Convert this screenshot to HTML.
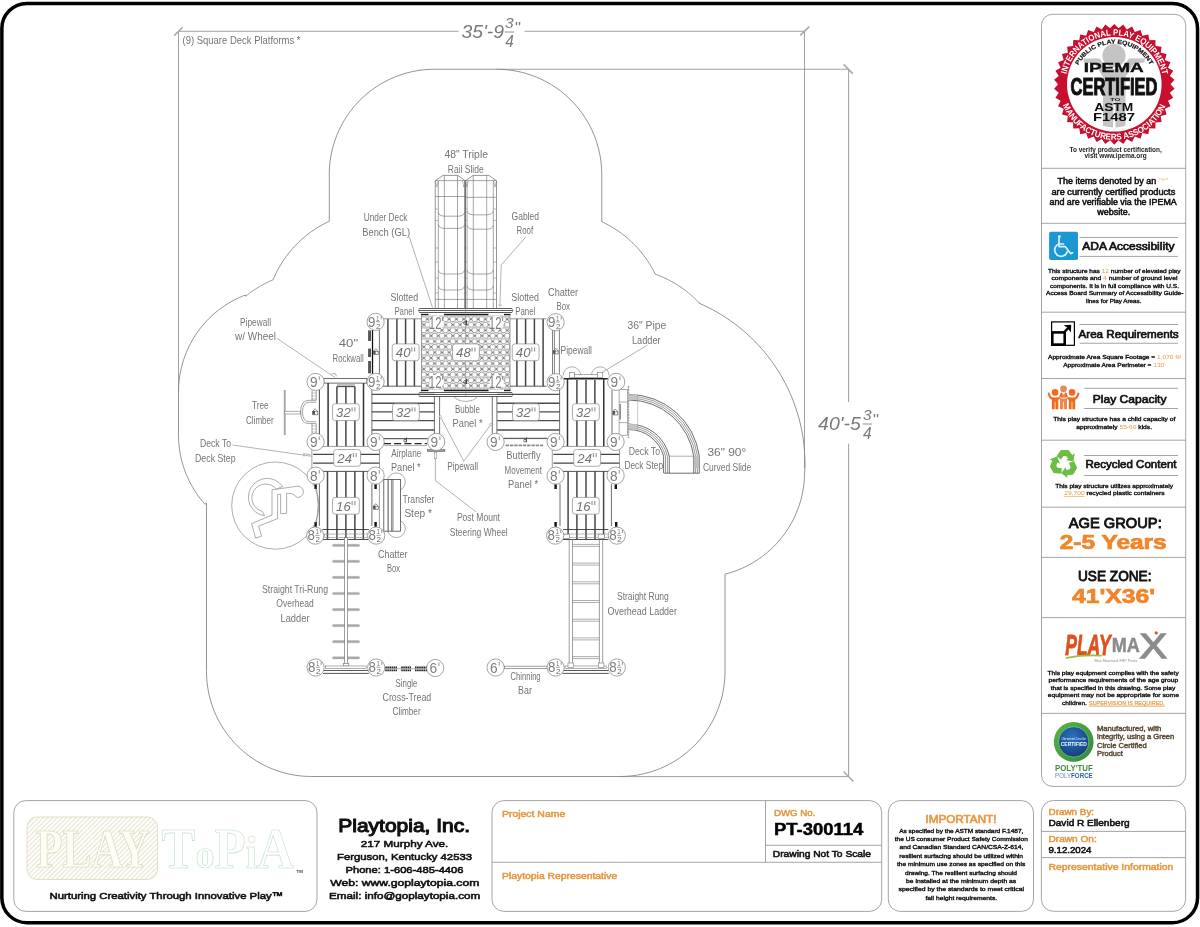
<!DOCTYPE html>
<html lang="en"><head><meta charset="utf-8"><title>Playtopia PT-300114</title>
<style>
html,body{margin:0;padding:0;background:#fff;}
body{width:1200px;height:927px;overflow:hidden;}
svg{display:block;will-change:transform;font-family:"Liberation Sans",sans-serif;}
</style></head><body>
<svg width="1200" height="927" viewBox="0 0 1200 927">
<!-- part_panels -->
<rect x="1.85" y="3.5" width="1195.7" height="919.2" rx="25" ry="25" fill="#fff" stroke="#000" stroke-width="3.5"/>
<rect x="1041.5" y="14.3" width="144.2" height="772.1" rx="11" ry="11" fill="none" stroke="#9a9a9a" stroke-width="0.9"/>
<line x1="1041.5" y1="168.3" x2="1185.7" y2="168.3" stroke="#9a9a9a" stroke-width="0.9"/>
<line x1="1041.5" y1="223.3" x2="1185.7" y2="223.3" stroke="#9a9a9a" stroke-width="0.9"/>
<line x1="1041.5" y1="312.2" x2="1185.7" y2="312.2" stroke="#9a9a9a" stroke-width="0.9"/>
<line x1="1041.5" y1="378.5" x2="1185.7" y2="378.5" stroke="#9a9a9a" stroke-width="0.9"/>
<line x1="1041.5" y1="440.2" x2="1185.7" y2="440.2" stroke="#9a9a9a" stroke-width="0.9"/>
<line x1="1041.5" y1="507.2" x2="1185.7" y2="507.2" stroke="#9a9a9a" stroke-width="0.9"/>
<line x1="1041.5" y1="557.4" x2="1185.7" y2="557.4" stroke="#9a9a9a" stroke-width="0.9"/>
<line x1="1041.5" y1="617.6" x2="1185.7" y2="617.6" stroke="#9a9a9a" stroke-width="0.9"/>
<line x1="1041.5" y1="713.4" x2="1185.7" y2="713.4" stroke="#9a9a9a" stroke-width="0.9"/>
<rect x="13.8" y="800.6" width="303.2" height="110.8" rx="12" ry="12" fill="none" stroke="#9a9a9a" stroke-width="0.9"/>
<rect x="492" y="800.6" width="389.7" height="110.8" rx="12" ry="12" fill="none" stroke="#9a9a9a" stroke-width="0.9"/>
<line x1="492" y1="862.25" x2="881.7" y2="862.25" stroke="#9a9a9a" stroke-width="0.9"/>
<line x1="765.5" y1="800.6" x2="765.5" y2="862.25" stroke="#9a9a9a" stroke-width="0.9"/>
<line x1="765.5" y1="845.3" x2="881.7" y2="845.3" stroke="#9a9a9a" stroke-width="0.9"/>
<rect x="888.3" y="800.6" width="145.2" height="110.8" rx="12" ry="12" fill="none" stroke="#9a9a9a" stroke-width="0.9"/>
<rect x="1041.4" y="800.5" width="144.2" height="110.8" rx="12" ry="12" fill="none" stroke="#9a9a9a" stroke-width="0.9"/>
<line x1="1041.4" y1="831.4" x2="1185.6" y2="831.4" stroke="#9a9a9a" stroke-width="0.9"/>
<line x1="1041.4" y1="857.6" x2="1185.6" y2="857.6" stroke="#9a9a9a" stroke-width="0.9"/>
<text x="338.3" y="832.25" font-size="18.5" textLength="131.7" lengthAdjust="spacingAndGlyphs" stroke="#111" stroke-width="1.11" fill="#111">Playtopia, Inc.</text>
<text x="360.8" y="846.8" font-size="9.71" textLength="87.45" lengthAdjust="spacingAndGlyphs" stroke="#111" stroke-width="0.58" fill="#111">217 Murphy Ave.</text>
<text x="337" y="859.7" font-size="9.71" textLength="135" lengthAdjust="spacingAndGlyphs" stroke="#111" stroke-width="0.58" fill="#111">Ferguson, Kentucky 42533</text>
<text x="345.5" y="872.75" font-size="9.71" textLength="118" lengthAdjust="spacingAndGlyphs" stroke="#111" stroke-width="0.58" fill="#111">Phone: 1-606-485-4406</text>
<text x="330.2" y="885.8" font-size="9.71" textLength="149.1" lengthAdjust="spacingAndGlyphs" stroke="#111" stroke-width="0.58" fill="#111">Web: www.goplaytopia.com</text>
<text x="329" y="899.3" font-size="9.71" textLength="151.2" lengthAdjust="spacingAndGlyphs" stroke="#111" stroke-width="0.58" fill="#111">Email: info@goplaytopia.com</text>
<text x="49.5" y="898.7" font-size="9.71" textLength="233.5" lengthAdjust="spacingAndGlyphs" stroke="#111" stroke-width="0.58" fill="#111">Nurturing Creativity Through Innovative Play™</text>
<text x="502" y="816.8" font-size="8.6" textLength="63.2" lengthAdjust="spacingAndGlyphs" stroke="#e39a45" stroke-width="0.52" fill="#e39a45">Project Name</text>
<text x="502" y="879.2" font-size="8.6" textLength="115.25" lengthAdjust="spacingAndGlyphs" stroke="#e39a45" stroke-width="0.52" fill="#e39a45">Playtopia Representative</text>
<text x="774" y="815.75" font-size="8.79" textLength="41.25" lengthAdjust="spacingAndGlyphs" stroke="#e39a45" stroke-width="0.53" fill="#e39a45">DWG No.</text>
<text x="774" y="835.25" font-size="15.6" textLength="89.25" lengthAdjust="spacingAndGlyphs" font-weight="bold" fill="#000" stroke="#000" stroke-width="0.45">PT-300114</text>
<text x="772.8" y="856.7" font-size="9.25" textLength="98.2" lengthAdjust="spacingAndGlyphs" stroke="#111" stroke-width="0.55" fill="#111">Drawing Not To Scale</text>
<text x="925.5" y="822.8" font-size="11.1" textLength="71" lengthAdjust="spacingAndGlyphs" stroke="#e39a45" stroke-width="0.67" fill="#e39a45">IMPORTANT!</text>
<text x="899.25" y="832.7" font-size="5.92" textLength="124.05" lengthAdjust="spacingAndGlyphs" stroke="#111" stroke-width="0.36" fill="#111">As specified by the ASTM standard F.1487,</text>
<text x="894.75" y="840.8" font-size="5.92" textLength="133.05" lengthAdjust="spacingAndGlyphs" stroke="#111" stroke-width="0.36" fill="#111">the US consumer Product Safety Commission</text>
<text x="899.5" y="849.2" font-size="5.92" textLength="123.8" lengthAdjust="spacingAndGlyphs" stroke="#111" stroke-width="0.36" fill="#111">and Canadian Standard CAN/CSA-Z-614,</text>
<text x="899.25" y="857.75" font-size="5.92" textLength="123.75" lengthAdjust="spacingAndGlyphs" stroke="#111" stroke-width="0.36" fill="#111">resilient surfacing should be utilized within</text>
<text x="897" y="866" font-size="5.92" textLength="128.25" lengthAdjust="spacingAndGlyphs" stroke="#111" stroke-width="0.36" fill="#111">the minimum use zones as specified on this</text>
<text x="905" y="874.7" font-size="5.92" textLength="112" lengthAdjust="spacingAndGlyphs" stroke="#111" stroke-width="0.36" fill="#111">drawing. The resilient surfacing should</text>
<text x="906" y="882.8" font-size="5.92" textLength="110.25" lengthAdjust="spacingAndGlyphs" stroke="#111" stroke-width="0.36" fill="#111">be installed at the minimum depth as</text>
<text x="898.5" y="891.2" font-size="5.92" textLength="125.5" lengthAdjust="spacingAndGlyphs" stroke="#111" stroke-width="0.36" fill="#111">specified by the standards to meet critical</text>
<text x="925.5" y="899.75" font-size="5.92" textLength="71.7" lengthAdjust="spacingAndGlyphs" stroke="#111" stroke-width="0.36" fill="#111">fall height requirements.</text>
<text x="1048.5" y="815.1" font-size="9.07" textLength="45.6" lengthAdjust="spacingAndGlyphs" stroke="#e39a45" stroke-width="0.54" fill="#e39a45">Drawn By:</text>
<text x="1048.5" y="826" font-size="9.25" textLength="81.1" lengthAdjust="spacingAndGlyphs" stroke="#111" stroke-width="0.55" fill="#111">David R Ellenberg</text>
<text x="1048.5" y="841.9" font-size="9.07" textLength="48.2" lengthAdjust="spacingAndGlyphs" stroke="#e39a45" stroke-width="0.54" fill="#e39a45">Drawn On:</text>
<text x="1048.5" y="852.8" font-size="9.25" textLength="43" lengthAdjust="spacingAndGlyphs" stroke="#111" stroke-width="0.55" fill="#111">9.12.2024</text>
<text x="1048.5" y="870.2" font-size="9.07" textLength="124.9" lengthAdjust="spacingAndGlyphs" stroke="#e39a45" stroke-width="0.54" fill="#e39a45">Representative Information</text>
<!-- part_right -->
<polygon points="1114.3,23.9 1118.5,28.26 1123.3,24.57 1126.81,29.51 1132.1,26.58 1134.83,31.98 1140.51,29.88 1142.4,35.63 1148.32,34.4 1149.34,40.36 1155.38,40.02 1155.5,46.07 1161.52,46.64 1160.73,52.64 1166.61,54.1 1164.93,59.92 1170.52,62.23 1168,67.73 1173.19,70.86 1169.87,75.92 1174.53,79.79 1170.5,84.3 1174.53,88.81 1169.87,92.68 1173.19,97.74 1168,100.87 1170.52,106.37 1164.93,108.68 1166.61,114.5 1160.73,115.96 1161.52,121.96 1155.5,122.53 1155.38,128.58 1149.34,128.24 1148.32,134.2 1142.4,132.97 1140.51,138.72 1134.83,136.62 1132.1,142.02 1126.81,139.09 1123.3,144.03 1118.5,140.34 1114.3,144.7 1110.1,140.34 1105.3,144.03 1101.79,139.09 1096.5,142.02 1093.77,136.62 1088.09,138.72 1086.2,132.97 1080.28,134.2 1079.26,128.24 1073.22,128.58 1073.1,122.53 1067.08,121.96 1067.87,115.96 1061.99,114.5 1063.67,108.68 1058.08,106.37 1060.6,100.87 1055.41,97.74 1058.73,92.68 1054.07,88.81 1058.1,84.3 1054.07,79.79 1058.73,75.92 1055.41,70.86 1060.6,67.73 1058.08,62.23 1063.67,59.92 1061.99,54.1 1067.87,52.64 1067.08,46.64 1073.1,46.07 1073.22,40.02 1079.26,40.36 1080.28,34.4 1086.2,35.63 1088.09,29.88 1093.77,31.98 1096.5,26.58 1101.79,29.51 1105.3,24.57 1110.1,28.26" fill="#c8102e"/>
<circle cx="1114.3" cy="84.3" r="47.3" fill="#fff"/>
<g><circle cx="1114" cy="55.6" r="11.6" fill="#c4c4c4"/>
<path d="M1083.5 58.5 L1099.5 58.5 L1107 69 L1121.6 69 L1129 58.5 L1145 58.5 L1144.5 62.5 L1134 63.5 L1125.5 77 L1125.5 126 L1115.6 127.6 L1114.8 101 L1113.8 101 L1113 127.6 L1103 126 L1103 77 L1094.5 63.5 L1084 62.5 Z" fill="#c4c4c4"/></g>
<defs><path id="sa1" d="M1066.47 74.13 A48.9 48.9 0 0 1 1162.13 74.13" fill="none"/><path id="sa2" d="M1062.84 105.09 A55.5 55.5 0 0 0 1165.76 105.09" fill="none"/><path id="sa3" d="M1078.45 65.24 A40.6 40.6 0 0 1 1150.15 65.24" fill="none"/></defs>
<text font-size="8.7" font-weight="bold" fill="#fff" textLength="133.73" lengthAdjust="spacingAndGlyphs"><textPath href="#sa1" textLength="133.73" lengthAdjust="spacingAndGlyphs">INTERNATIONAL PLAY EQUIPMENT</textPath></text>
<text font-size="8.7" font-weight="bold" fill="#fff" textLength="130.53" lengthAdjust="spacingAndGlyphs"><textPath href="#sa2" textLength="130.53" lengthAdjust="spacingAndGlyphs">MANUFACTURERS ASSOCIATION</textPath></text>
<text font-size="6" font-weight="bold" fill="#111" stroke="#111" stroke-width="0.2" textLength="87.37" lengthAdjust="spacingAndGlyphs"><textPath href="#sa3" textLength="87.37" lengthAdjust="spacingAndGlyphs">PUBLIC PLAY EQUIPMENT</textPath></text>
<text x="1083.7" y="71.75" font-size="13.1" textLength="60.05" lengthAdjust="spacingAndGlyphs" font-weight="bold" fill="#111" stroke="#111" stroke-width="0.4">IPEMA</text>
<text x="1070.6" y="94.5" font-size="23.6" textLength="86.8" lengthAdjust="spacingAndGlyphs" font-weight="bold" fill="#111" stroke="#111" stroke-width="1.1">CERTIFIED</text>
<text x="1110" y="100.9" font-size="4" textLength="10.4" lengthAdjust="spacingAndGlyphs" font-weight="bold" fill="#222">TO</text>
<text x="1094.2" y="110.8" font-size="10.6" textLength="39.05" lengthAdjust="spacingAndGlyphs" font-weight="bold" fill="#111">ASTM</text>
<text x="1093" y="121.2" font-size="10.2" textLength="42" lengthAdjust="spacingAndGlyphs" font-weight="bold" fill="#111">F1487</text>
<text x="1069.5" y="151.75" font-size="6.6" textLength="92.25" lengthAdjust="spacingAndGlyphs" font-weight="bold" fill="#222">To verify product certification,</text>
<text x="1084.5" y="157.75" font-size="6.6" textLength="62.25" lengthAdjust="spacingAndGlyphs" font-weight="bold" fill="#222">visit www.ipema.org</text>
<text x="1057.5" y="184.3" font-size="8.33" textLength="111" lengthAdjust="spacingAndGlyphs" stroke="#111" stroke-width="0.5" fill="#111">The items denoted by an <tspan fill="#e8c9a0" stroke="none">"*"</tspan></text>
<text x="1051.5" y="194.8" font-size="8.33" textLength="123.75" lengthAdjust="spacingAndGlyphs" stroke="#111" stroke-width="0.5" fill="#111">are currently certified products</text>
<text x="1049.5" y="205" font-size="8.33" textLength="127.25" lengthAdjust="spacingAndGlyphs" stroke="#111" stroke-width="0.5" fill="#111">and are verifiable via the IPEMA</text>
<text x="1097.25" y="215" font-size="8.33" textLength="33" lengthAdjust="spacingAndGlyphs" stroke="#111" stroke-width="0.5" fill="#111">website.</text>
<rect x="1049.1" y="231.8" width="28.9" height="28.3" rx="1.8" ry="1.8" fill="#1d97d4"/>
<rect x="1058" y="235.2" width="2.8" height="2.6" rx="0.8" ry="0.8" fill="#d8f4ff"/>
<path d="M1059 238 L1059 246.6 L1065.2 246.6 L1070.6 253.6 L1072.6 252.7" fill="none" stroke="#d8f4ff" stroke-width="1.7" stroke-linecap="round" stroke-linejoin="round"/>
<path d="M1059 244 L1063.6 244" fill="none" stroke="#d8f4ff" stroke-width="1.7" stroke-linecap="round" stroke-linejoin="round"/>
<path d="M1057.6 244.6 A6.4 6.4 0 1 0 1067.2 251.8" fill="none" stroke="#d8f4ff" stroke-width="1.7" stroke-linecap="round" stroke-linejoin="round"/>
<line x1="1079.5" y1="237.5" x2="1178" y2="237.5" stroke="#9a9a9a" stroke-width="0.9"/>
<line x1="1079.5" y1="256.4" x2="1178" y2="256.4" stroke="#9a9a9a" stroke-width="0.9"/>
<text x="1082.25" y="250.4" font-size="11.29" textLength="92.25" lengthAdjust="spacingAndGlyphs" stroke="#111" stroke-width="0.68" fill="#111">ADA Accessibility</text>
<text x="1048" y="272.75" font-size="5.64" textLength="132.5" lengthAdjust="spacingAndGlyphs" stroke="#111" stroke-width="0.34" fill="#111">This structure has <tspan fill="#e39a45" stroke="none">12</tspan> number of elevated play</text>
<text x="1051.5" y="280.25" font-size="5.64" textLength="126" lengthAdjust="spacingAndGlyphs" stroke="#111" stroke-width="0.34" fill="#111">components and <tspan fill="#e39a45" stroke="none">4</tspan> number of ground level</text>
<text x="1050" y="287.75" font-size="5.64" textLength="129" lengthAdjust="spacingAndGlyphs" stroke="#111" stroke-width="0.34" fill="#111">components. It is in full compliance with U.S.</text>
<text x="1046" y="295" font-size="5.64" textLength="137.5" lengthAdjust="spacingAndGlyphs" stroke="#111" stroke-width="0.34" fill="#111">Access Board Summary of Accessibility Guide-</text>
<text x="1086" y="302.5" font-size="5.64" textLength="55.5" lengthAdjust="spacingAndGlyphs" stroke="#111" stroke-width="0.34" fill="#111">lines for Play Areas.</text>
<rect x="1051.6" y="321.9" width="22.8" height="23.4" fill="#fff" stroke="#000" stroke-width="1.2"/>
<rect x="1052.3" y="332.4" width="12.4" height="12.2" fill="#fff" stroke="#000" stroke-width="2.6"/>
<path d="M1064.2 332.2 L1069.4 326.8" fill="none" stroke="#000" stroke-width="2.4"/>
<path d="M1063.6 325.2 L1071.2 324.8 L1070.9 332.6 L1069 330 L1068.4 328.2 L1066.4 327 Z" fill="#000"/>
<line x1="1079.5" y1="324.5" x2="1178" y2="324.5" stroke="#9a9a9a" stroke-width="0.9"/>
<line x1="1079.5" y1="343.25" x2="1178" y2="343.25" stroke="#9a9a9a" stroke-width="0.9"/>
<text x="1078.5" y="337.7" font-size="11.29" textLength="100.2" lengthAdjust="spacingAndGlyphs" stroke="#111" stroke-width="0.68" fill="#111">Area Requirements</text>
<text x="1048" y="359" font-size="5.64" textLength="133.2" lengthAdjust="spacingAndGlyphs" stroke="#111" stroke-width="0.34" fill="#111">Approximate Area Square Footage = <tspan fill="#e39a45" stroke="none">1,070 ft²</tspan></text>
<text x="1063.2" y="366.5" font-size="5.64" textLength="102.3" lengthAdjust="spacingAndGlyphs" stroke="#111" stroke-width="0.34" fill="#111">Approximate Area Perimeter = <tspan fill="#e39a45" stroke="none">130'</tspan></text>
<circle cx="1063.5" cy="388.9" r="3.3" fill="#ea8a52"/><path d="M1060 394.3 h7 v14.9 h-3.15 v-7.5 h-0.7 v7.5 h-3.15 Z" fill="#ea8a52"/>
<circle cx="1055.1" cy="392.4" r="3.3" fill="#f26a1b"/><path d="M1051.9 397.5 h6.4 v11.7 h-2.85 v-7.5 h-0.7 v7.5 h-2.85 Z" fill="#f26a1b"/>
<path d="M1048.7 393.6 Q1050.6 399.5 1053.1 398.6" fill="none" stroke="#f26a1b" stroke-width="2.1" stroke-linecap="round"/>
<path d="M1061.5 393.6 Q1059.6 399.5 1057.1 398.6" fill="none" stroke="#f26a1b" stroke-width="2.1" stroke-linecap="round"/>
<circle cx="1072" cy="392.4" r="3.3" fill="#f26a1b"/><path d="M1068.8 397.5 h6.4 v11.7 h-2.85 v-7.5 h-0.7 v7.5 h-2.85 Z" fill="#f26a1b"/>
<path d="M1065.6 393.6 Q1067.5 399.5 1070 398.6" fill="none" stroke="#f26a1b" stroke-width="2.1" stroke-linecap="round"/>
<path d="M1078.4 393.6 Q1076.5 399.5 1074 398.6" fill="none" stroke="#f26a1b" stroke-width="2.1" stroke-linecap="round"/>
<path d="M1058.6 396.8 Q1063.5 400 1068.4 396.8" fill="none" stroke="#fff" stroke-width="0.7"/>
<line x1="1084" y1="388.3" x2="1178" y2="388.3" stroke="#9a9a9a" stroke-width="0.9"/>
<line x1="1084" y1="408.5" x2="1178" y2="408.5" stroke="#9a9a9a" stroke-width="0.9"/>
<text x="1092.75" y="402.7" font-size="11.29" textLength="73.75" lengthAdjust="spacingAndGlyphs" stroke="#111" stroke-width="0.68" fill="#111">Play Capacity</text>
<text x="1053.3" y="421" font-size="5.64" textLength="121.95" lengthAdjust="spacingAndGlyphs" stroke="#111" stroke-width="0.34" fill="#111">This play structure has a child capacity of</text>
<text x="1076.25" y="428.5" font-size="5.64" textLength="75.75" lengthAdjust="spacingAndGlyphs" stroke="#111" stroke-width="0.34" fill="#111">approximately <tspan fill="#e39a45" stroke="none">55-60</tspan> kids.</text>
<g><path d="M-7.4 -7.4 L-3 -13.6 L4.6 -13.6 L8.4 -8.6 L10.8 -10.2 L9.6 -2.4 L2 -3.4 L4.4 -5.2 L2 -7.6 L-0.4 -7.6 L-3 -4 Z" transform="translate(1063.9 463.6) rotate(0)" fill="#6cbd45"/>
<path d="M-7.4 -7.4 L-3 -13.6 L4.6 -13.6 L8.4 -8.6 L10.8 -10.2 L9.6 -2.4 L2 -3.4 L4.4 -5.2 L2 -7.6 L-0.4 -7.6 L-3 -4 Z" transform="translate(1063.9 463.6) rotate(120)" fill="#6cbd45"/>
<path d="M-7.4 -7.4 L-3 -13.6 L4.6 -13.6 L8.4 -8.6 L10.8 -10.2 L9.6 -2.4 L2 -3.4 L4.4 -5.2 L2 -7.6 L-0.4 -7.6 L-3 -4 Z" transform="translate(1063.9 463.6) rotate(240)" fill="#6cbd45"/></g>
<line x1="1084" y1="455.5" x2="1178" y2="455.5" stroke="#9a9a9a" stroke-width="0.9"/>
<line x1="1084" y1="475.5" x2="1178" y2="475.5" stroke="#9a9a9a" stroke-width="0.9"/>
<text x="1085.5" y="468.25" font-size="11.29" textLength="91" lengthAdjust="spacingAndGlyphs" stroke="#111" stroke-width="0.68" fill="#111">Recycled Content</text>
<text x="1055.25" y="487.75" font-size="5.64" textLength="117.75" lengthAdjust="spacingAndGlyphs" stroke="#111" stroke-width="0.34" fill="#111">This play structure utilizes approximately</text>
<text x="1064.25" y="495.25" font-size="5.64" textLength="100.25" lengthAdjust="spacingAndGlyphs" stroke="#111" stroke-width="0.34" fill="#111"><tspan fill="#e39a45" stroke="none" text-decoration="underline">29,700</tspan> recycled plastic containers</text>
<text x="1068.75" y="527.75" font-size="14.43" textLength="93" lengthAdjust="spacingAndGlyphs" stroke="#111" stroke-width="0.87" fill="#111">AGE GROUP:</text>
<text x="1059.75" y="549.2" font-size="20.5" textLength="106.95" lengthAdjust="spacingAndGlyphs" font-weight="bold" fill="#f0852a" stroke="#f0852a" stroke-width="0.7">2-5 Years</text>
<text x="1078" y="581" font-size="14.43" textLength="73.5" lengthAdjust="spacingAndGlyphs" stroke="#111" stroke-width="0.87" fill="#111">USE ZONE:</text>
<text x="1072" y="602.75" font-size="20" textLength="83" lengthAdjust="spacingAndGlyphs" font-weight="bold" fill="#f0852a" stroke="#f0852a" stroke-width="0.7">41&#x27;X36&#x27;</text>
<text x="1065.2" y="654.8" font-size="30" textLength="45.5" lengthAdjust="spacingAndGlyphs" font-weight="bold" fill="#e0501c" font-style="italic" stroke="#e0501c" stroke-width="0.9" stroke-linejoin="round">PLAY</text>
<text x="1111.8" y="652.2" font-size="20" textLength="28" lengthAdjust="spacingAndGlyphs" font-weight="bold" fill="#8c8c8c" stroke="#8c8c8c" stroke-width="0.5">MA</text>
<text x="1139.5" y="658" font-size="35" textLength="27.5" lengthAdjust="spacingAndGlyphs" fill="#8c8c8c" stroke="#8c8c8c" stroke-width="1.3">X</text>
<path d="M1066.5 657.8 Q1083 654.6 1101 655.6" fill="none" stroke="#8fc63f" stroke-width="1.7" stroke-linecap="round"/>
<circle cx="1156.2" cy="632.9" r="1.6" fill="#e0501c"/>
<text x="1094.5" y="662.2" font-size="3.6" textLength="42.5" lengthAdjust="spacingAndGlyphs" fill="#888">Max Structural FRP Posts</text>
<text x="1089" y="704.8" font-size="6.1" textLength="75.75" lengthAdjust="spacingAndGlyphs" fill="#e39a45" text-decoration="underline" stroke="#e39a45" stroke-width="0.2">SUPERVISION IS REQUIRED.</text>
<text x="1047.5" y="674.8" font-size="5.64" textLength="131.2" lengthAdjust="spacingAndGlyphs" stroke="#111" stroke-width="0.34" fill="#111">This play equipment complies with the safety</text>
<text x="1048.5" y="682.3" font-size="5.64" textLength="129.75" lengthAdjust="spacingAndGlyphs" stroke="#111" stroke-width="0.34" fill="#111">performance requirements of the age group</text>
<text x="1050.75" y="689.8" font-size="5.64" textLength="124.5" lengthAdjust="spacingAndGlyphs" stroke="#111" stroke-width="0.34" fill="#111">that is specified in this drawing. Some play</text>
<text x="1047.75" y="697" font-size="5.64" textLength="131.25" lengthAdjust="spacingAndGlyphs" stroke="#111" stroke-width="0.34" fill="#111">equipment may not be appropriate for some</text>
<text x="1062" y="704.8" font-size="5.64" textLength="24.9" lengthAdjust="spacingAndGlyphs" stroke="#111" stroke-width="0.34" fill="#111">children.</text>
<defs><radialGradient id="gcb" cx="0.45" cy="0.35" r="0.7"><stop offset="0" stop-color="#2a73c0"/><stop offset="1" stop-color="#143a78"/></radialGradient><linearGradient id="gcg" x1="0" y1="0" x2="1" y2="1"><stop offset="0" stop-color="#5cb447"/><stop offset="1" stop-color="#2d8a3a"/></linearGradient></defs>
<circle cx="1073.7" cy="741.9" r="19.9" fill="url(#gcg)"/>
<circle cx="1073.7" cy="741.9" r="15.2" fill="url(#gcb)" stroke="#8fe08a" stroke-width="0.6"/>
<text x="1061.6" y="740.2" font-size="4.4" textLength="24.4" lengthAdjust="spacingAndGlyphs" fill="#dfeeff">GreenCircle</text>
<text x="1060.8" y="745.6" font-size="5.2" textLength="26" lengthAdjust="spacingAndGlyphs" font-weight="bold" fill="#eef6ff">CERTIFIED</text>
<text x="1097" y="730.8" font-size="6.75" textLength="64.3" lengthAdjust="spacingAndGlyphs" stroke="#5a4a36" stroke-width="0.41" fill="#5a4a36">Manufactured, with</text>
<text x="1097" y="739.2" font-size="6.75" textLength="77.2" lengthAdjust="spacingAndGlyphs" stroke="#5a4a36" stroke-width="0.41" fill="#5a4a36">integrity, using a Green</text>
<text x="1097" y="747.5" font-size="6.75" textLength="49.75" lengthAdjust="spacingAndGlyphs" stroke="#5a4a36" stroke-width="0.41" fill="#5a4a36">Circle Certified</text>
<text x="1097" y="755.7" font-size="6.75" textLength="25.75" lengthAdjust="spacingAndGlyphs" stroke="#5a4a36" stroke-width="0.41" fill="#5a4a36">Product</text>
<text x="1055" y="771" font-size="8.8" textLength="37.75" lengthAdjust="spacingAndGlyphs" font-weight="bold" fill="#3f8f3f">POLY&#x27;TUF</text>
<text x="1055" y="778" font-size="7.4" textLength="37.75" lengthAdjust="spacingAndGlyphs" font-weight="bold" fill="#2f63a8"><tspan font-weight="normal" fill="#5d8fc0">POLY</tspan><tspan fill="#2f63a8">FORCE</tspan></text>
<!-- part_logo -->
<defs><pattern id="lh" width="3.3" height="3.3" patternUnits="userSpaceOnUse" patternTransform="rotate(-45)"><line x1="0" y1="1.6" x2="3.3" y2="1.6" stroke="#d8d2b2" stroke-width="0.7"/></pattern></defs>
<rect x="27" y="817" width="130.5" height="62.5" rx="10" ry="10" fill="url(#lh)" stroke="#d8d2b2" stroke-width="0.7"/>
<text x="36" y="867" font-size="54" font-weight="bold" textLength="114" lengthAdjust="spacingAndGlyphs" fill="#fffef6" stroke="#d8d2b2" stroke-width="0.7" font-family="'Liberation Serif', serif">PLAY</text>
<text x="161.5" y="868" font-size="56" font-weight="bold" textLength="132.5" lengthAdjust="spacingAndGlyphs" fill="#fff" stroke="#c3e3cd" stroke-width="0.7" font-family="'Liberation Serif', serif">T<tspan font-size="42">o</tspan>P<tspan font-size="46">i</tspan>A</text>
<text x="296.5" y="872.8" font-size="3.6" textLength="6.4" lengthAdjust="spacingAndGlyphs" font-weight="bold" fill="#444">TM</text>
<!-- part_zone -->
<path d="M435 69.25 L496.5 69.25 L496.5 69.25 L500.63 69.33 L504.76 69.57 L508.87 69.98 L512.96 70.55 L517.03 71.27 L521.07 72.16 L525.07 73.2 L529.02 74.4 L532.93 75.76 L536.78 77.26 L540.56 78.92 L544.28 80.72 L547.93 82.67 L551.49 84.76 L554.97 86.99 L558.36 89.35 L561.66 91.85 L564.85 94.47 L567.94 97.21 L570.92 100.08 L573.79 103.06 L576.53 106.15 L579.15 109.34 L581.65 112.64 L584.01 116.03 L586.24 119.51 L588.33 123.07 L590.28 126.72 L592.08 130.44 L593.74 134.22 L595.24 138.07 L596.6 141.98 L597.8 145.93 L598.84 149.93 L599.73 153.97 L600.45 158.04 L601.02 162.13 L601.43 166.24 L601.67 170.37 L601.75 174.5 L601.75 222 L601.85 221.78 L603.56 222.59 L605.26 223.43 L606.95 224.29 L608.62 225.19 L610.28 226.11 L611.92 227.06 L613.54 228.04 L615.14 229.05 L616.73 230.08 L618.3 231.14 L619.86 232.23 L621.39 233.34 L622.9 234.48 L624.4 235.65 L625.87 236.84 L627.32 238.06 L628.75 239.3 L630.17 240.57 L631.55 241.86 L632.92 243.17 L634.26 244.5 L635.58 245.86 L636.88 247.25 L638.16 248.65 L639.4 250.08 L640.63 251.52 L641.83 252.99 L643 254.48 L644.15 255.98 L645.27 257.51 L646.37 259.06 L647.44 260.62 L648.48 262.2 L649.5 263.8 L650.48 265.42 L651.44 267.06 L652.38 268.71 L653.28 270.37 L654.15 272.05 L655 273.75 L654.9 274.02 L656.15 274.47 L657.4 274.94 L658.63 275.43 L659.86 275.92 L661.09 276.44 L662.31 276.96 L663.52 277.5 L664.73 278.06 L665.93 278.63 L667.12 279.21 L668.31 279.81 L669.49 280.42 L670.66 281.04 L671.83 281.68 L672.99 282.33 L674.14 282.99 L675.28 283.67 L676.41 284.36 L677.54 285.07 L678.66 285.78 L679.77 286.51 L680.87 287.26 L681.96 288.01 L683.05 288.78 L684.12 289.56 L685.19 290.35 L686.24 291.16 L687.29 291.97 L688.33 292.8 L689.35 293.65 L690.37 294.5 L691.38 295.36 L692.38 296.24 L693.37 297.13 L694.34 298.03 L695.31 298.94 L696.27 299.86 L697.21 300.79 L698.15 301.74 L699.07 302.69 L698.72 303.06 L703.48 305.17 L708.17 307.43 L712.8 309.83 L717.35 312.36 L721.82 315.02 L726.21 317.82 L730.52 320.75 L734.73 323.8 L738.86 326.98 L742.89 330.28 L746.81 333.69 L750.64 337.23 L754.36 340.87 L757.96 344.63 L761.46 348.48 L764.84 352.45 L768.09 356.51 L771.23 360.66 L774.24 364.91 L777.13 369.24 L779.88 373.66 L782.5 378.16 L784.99 382.74 L787.34 387.38 L789.55 392.1 L791.61 396.87 L793.54 401.71 L795.32 406.6 L796.95 411.55 L798.44 416.54 L799.78 421.57 L800.97 426.64 L802 431.74 L802.88 436.87 L803.62 442.03 L804.19 447.2 L804.61 452.39 L804.88 457.59 L805 462.79 L804.95 468 L804.6 472 L804.54 475.49 L804.37 478.97 L804.08 482.45 L803.68 485.91 L803.16 489.36 L802.53 492.79 L801.79 496.19 L800.93 499.58 L799.96 502.93 L798.88 506.24 L797.7 509.52 L796.4 512.76 L795 515.95 L793.49 519.1 L791.88 522.19 L790.17 525.23 L788.36 528.21 L786.45 531.13 L784.45 533.98 L782.35 536.77 L780.16 539.48 L777.89 542.13 L775.52 544.69 L773.08 547.18 L770.55 549.58 L767.94 551.9 L765.26 554.13 L762.51 556.27 L759.69 558.32 L756.8 560.27 L753.85 562.13 L750.84 563.89 L747.77 565.54 L744.65 567.1 L741.48 568.55 L738.26 569.9 L735 571.13 L731.7 572.26 L728.37 573.28 L725 574.19 L725 671.5 L725 671.5 L724.92 675.62 L724.68 679.74 L724.27 683.84 L723.71 687.93 L722.98 691.98 L722.1 696.01 L721.06 700 L719.86 703.95 L718.51 707.84 L717.01 711.68 L715.36 715.46 L713.56 719.17 L711.61 722.81 L709.53 726.36 L707.3 729.83 L704.95 733.22 L702.46 736.5 L699.84 739.69 L697.1 742.77 L694.25 745.75 L691.27 748.6 L688.19 751.34 L685 753.96 L681.72 756.45 L678.33 758.8 L674.86 761.03 L671.31 763.11 L667.67 765.06 L663.96 766.86 L660.18 768.51 L656.34 770.01 L652.45 771.36 L648.5 772.56 L644.51 773.6 L640.48 774.48 L636.43 775.21 L632.34 775.77 L628.24 776.18 L624.12 776.42 L620 776.5 L311.5 776.5 L311.5 776.5 L307.38 776.42 L303.26 776.18 L299.16 775.77 L295.07 775.21 L291.02 774.48 L286.99 773.6 L283 772.56 L279.05 771.36 L275.16 770.01 L271.32 768.51 L267.54 766.86 L263.83 765.06 L260.19 763.11 L256.64 761.03 L253.17 758.8 L249.78 756.45 L246.5 753.96 L243.31 751.34 L240.23 748.6 L237.25 745.75 L234.4 742.77 L231.66 739.69 L229.04 736.5 L226.55 733.22 L224.2 729.83 L221.97 726.36 L219.89 722.81 L217.94 719.17 L216.14 715.46 L214.49 711.68 L212.99 707.84 L211.64 703.95 L210.44 700 L209.4 696.01 L208.52 691.98 L207.79 687.93 L207.23 683.84 L206.82 679.74 L206.58 675.62 L206.5 671.5 L206.5 503 L205.03 504.31 L203.78 502.89 L202.55 501.44 L201.35 499.98 L200.18 498.48 L199.03 496.97 L197.91 495.44 L196.82 493.89 L195.76 492.32 L194.73 490.72 L193.72 489.11 L192.75 487.49 L191.8 485.84 L190.89 484.18 L190 482.5 L189.15 480.8 L188.33 479.09 L187.54 477.37 L186.78 475.63 L186.05 473.88 L185.36 472.11 L184.7 470.33 L184.07 468.54 L183.47 466.74 L182.91 464.93 L182.38 463.11 L181.88 461.28 L181.42 459.44 L180.99 457.59 L180.59 455.73 L180.23 453.87 L179.9 452 L179.61 450.13 L179.35 448.25 L179.12 446.36 L178.93 444.47 L178.78 442.58 L178.66 440.69 L178.57 438.79 L178.52 436.9 L178.5 435 L178.5 392 L178.5 392 L178.55 388.87 L178.69 385.74 L178.92 382.62 L179.25 379.51 L179.68 376.41 L180.19 373.32 L180.8 370.25 L181.51 367.2 L182.3 364.18 L183.18 361.17 L184.16 358.2 L185.22 355.25 L186.37 352.34 L187.61 349.47 L188.94 346.64 L190.35 343.84 L191.84 341.09 L193.42 338.39 L195.07 335.73 L196.81 333.13 L198.62 330.58 L200.51 328.08 L202.48 325.65 L204.52 323.27 L206.62 320.95 L208.8 318.71 L211.04 316.52 L213.35 314.41 L215.72 312.37 L218.15 310.39 L220.64 308.5 L223.19 306.68 L225.79 304.93 L228.44 303.27 L231.14 301.69 L233.88 300.18 L236.67 298.77 L239.5 297.43 L242.38 296.19 L245.28 295.03 L245.7 296.19 L246.32 295.68 L246.95 295.18 L247.59 294.69 L248.22 294.19 L248.86 293.71 L249.5 293.22 L250.15 292.75 L250.8 292.27 L251.45 291.8 L252.11 291.34 L252.77 290.88 L253.43 290.43 L254.1 289.98 L254.77 289.53 L255.44 289.09 L256.12 288.66 L256.8 288.23 L257.48 287.8 L258.16 287.38 L258.85 286.97 L259.54 286.56 L260.24 286.15 L260.93 285.75 L261.64 285.36 L262.34 284.97 L263.04 284.58 L263.75 284.21 L264.46 283.83 L265.18 283.46 L265.89 283.1 L266.61 282.74 L267.34 282.39 L268.06 282.04 L268.79 281.7 L269.52 281.36 L270.25 281.03 L270.98 280.7 L271.72 280.38 L272.46 280.06 L273.2 279.75 L273.14 279.73 L273.95 277.81 L274.79 275.92 L275.67 274.04 L276.58 272.18 L277.53 270.33 L278.52 268.5 L279.53 266.69 L280.58 264.9 L281.67 263.13 L282.79 261.39 L283.93 259.66 L285.12 257.95 L286.33 256.27 L287.57 254.61 L288.85 252.97 L290.16 251.36 L291.49 249.77 L292.86 248.21 L294.25 246.67 L295.68 245.16 L297.13 243.68 L298.61 242.22 L300.11 240.79 L301.64 239.39 L303.2 238.02 L304.79 236.68 L306.39 235.37 L308.03 234.09 L309.68 232.84 L311.36 231.62 L313.06 230.43 L314.79 229.28 L316.53 228.16 L318.3 227.07 L320.09 226.01 L321.89 224.99 L323.72 224 L325.56 223.04 L327.42 222.12 L329.3 221.24 L329.3 174.5 L329.25 174.5 L329.33 170.37 L329.57 166.24 L329.98 162.13 L330.55 158.04 L331.27 153.97 L332.16 149.93 L333.2 145.93 L334.4 141.98 L335.76 138.07 L337.26 134.22 L338.92 130.44 L340.72 126.72 L342.67 123.07 L344.76 119.51 L346.99 116.03 L349.35 112.64 L351.85 109.34 L354.47 106.15 L357.21 103.06 L360.08 100.08 L363.06 97.21 L366.15 94.47 L369.34 91.85 L372.64 89.35 L376.03 86.99 L379.51 84.76 L383.07 82.67 L386.72 80.72 L390.44 78.92 L394.22 77.26 L398.07 75.76 L401.98 74.4 L405.93 73.2 L409.93 72.16 L413.97 71.27 L418.04 70.55 L422.13 69.98 L426.24 69.57 L430.37 69.33 L434.5 69.25 Z" fill="none" stroke="#707070" stroke-width="0.75" stroke-linejoin="round"/>
<line x1="178.5" y1="31.25" x2="458.5" y2="31.25" stroke="#888" stroke-width="0.8"/>
<line x1="524.5" y1="31.25" x2="804.5" y2="31.25" stroke="#888" stroke-width="0.8"/>
<line x1="178.5" y1="31.25" x2="178.5" y2="392" stroke="#888" stroke-width="0.8"/>
<line x1="804.5" y1="31.25" x2="804.5" y2="468" stroke="#888" stroke-width="0.8"/>
<line x1="496.5" y1="69.25" x2="848.6" y2="69.25" stroke="#888" stroke-width="0.8"/>
<line x1="620" y1="776.6" x2="848.6" y2="776.6" stroke="#888" stroke-width="0.8"/>
<line x1="848.6" y1="69.25" x2="848.6" y2="402" stroke="#888" stroke-width="0.8"/>
<line x1="848.6" y1="443.7" x2="848.6" y2="776.6" stroke="#888" stroke-width="0.8"/>
<line x1="174.2" y1="35.6" x2="182.6" y2="27.2" stroke="#a8a8a8" stroke-width="1.5"/>
<line x1="800.3" y1="35.4" x2="809.2" y2="26.6" stroke="#a8a8a8" stroke-width="1.5"/>
<line x1="843.6" y1="64.4" x2="852.8" y2="73.6" stroke="#a8a8a8" stroke-width="1.5"/>
<line x1="843.6" y1="771.4" x2="853.4" y2="781.4" stroke="#a8a8a8" stroke-width="1.5"/>
<text x="461.6" y="37.6" font-size="18.6" textLength="42.5" lengthAdjust="spacingAndGlyphs" fill="#7a7a7a" font-style="italic">35&#x27;-9</text>
<text x="505" y="28.2" font-size="14.5" textLength="8.6" lengthAdjust="spacingAndGlyphs" fill="#7a7a7a" font-style="italic">3</text>
<line x1="504.6" y1="32" x2="514.2" y2="32" stroke="#7a7a7a" stroke-width="0.8"/>
<text x="505.2" y="47.2" font-size="16" textLength="8.6" lengthAdjust="spacingAndGlyphs" fill="#7a7a7a" font-style="italic">4</text>
<text x="515" y="32" font-size="15" textLength="6" lengthAdjust="spacingAndGlyphs" fill="#7a7a7a">&quot;</text>
<text x="818.1" y="429.6" font-size="18.6" textLength="42.6" lengthAdjust="spacingAndGlyphs" fill="#7a7a7a" font-style="italic">40&#x27;-5</text>
<text x="862.9" y="420.2" font-size="14.5" textLength="8.6" lengthAdjust="spacingAndGlyphs" fill="#7a7a7a" font-style="italic">3</text>
<line x1="862.5" y1="424" x2="872.1" y2="424" stroke="#7a7a7a" stroke-width="0.8"/>
<text x="863.1" y="439.2" font-size="16" textLength="8.6" lengthAdjust="spacingAndGlyphs" fill="#7a7a7a" font-style="italic">4</text>
<text x="872.9" y="424" font-size="15" textLength="6" lengthAdjust="spacingAndGlyphs" fill="#7a7a7a">&quot;</text>
<!-- part_struct -->
<defs><pattern id="hx" x="420.2" y="313.6" width="7.25" height="11.1" patternUnits="userSpaceOnUse"><path d="M-1.16 -2.55L1.16 -2.55L2.75 -1.07L2.75 1.07L1.16 2.55L-1.16 2.55L-2.75 1.07L-2.75 -1.07ZM6.09 -2.55L8.4 -2.55L10 -1.07L10 1.07L8.4 2.55L6.09 2.55L4.5 1.07L4.5 -1.07ZM2.47 3L4.78 3L6.38 4.48L6.38 6.62L4.78 8.1L2.47 8.1L0.88 6.62L0.88 4.48ZM-1.16 8.55L1.16 8.55L2.75 10.03L2.75 12.17L1.16 13.65L-1.16 13.65L-2.75 12.17L-2.75 10.03ZM6.09 8.55L8.4 8.55L10 10.03L10 12.17L8.4 13.65L6.09 13.65L4.5 12.17L4.5 10.03ZM2.73 -1.1L4.53 1.1M4.53 -1.1L2.73 1.1M2.73 10L4.53 12.2M4.53 10L2.73 12.2M-0.9 4.45L0.9 6.65M0.9 4.45L-0.9 6.65M6.35 4.45L8.15 6.65M8.15 4.45L6.35 6.65" fill="none" stroke="#484848" stroke-width="0.55"/></pattern></defs>
<path d="M435.25 308.2 L435.25 180.8 L443.05 175.4 L457.8 175.4 L465.4 180.8 L465.4 308.2" fill="none" stroke="#6a6a6a" stroke-width="0.7"/><line x1="438.3" y1="180.8" x2="438.3" y2="308.2" stroke="#6a6a6a" stroke-width="0.6"/><line x1="444.4" y1="175.4" x2="444.4" y2="308.2" stroke="#6a6a6a" stroke-width="0.6"/><line x1="457.5" y1="175.4" x2="457.5" y2="308.2" stroke="#6a6a6a" stroke-width="0.6"/><line x1="464.55" y1="180.8" x2="464.55" y2="308.2" stroke="#6a6a6a" stroke-width="0.6"/><line x1="435.25" y1="180.6" x2="465.4" y2="180.6" stroke="#6a6a6a" stroke-width="0.6"/><line x1="435.25" y1="196.5" x2="465.4" y2="196.5" stroke="#6a6a6a" stroke-width="0.6"/><line x1="435.25" y1="299.4" x2="465.4" y2="299.4" stroke="#6a6a6a" stroke-width="0.6"/><path d="M438.3 212.4 Q438.9 215.8 444.3 216.2 L458.55 216.2 Q463.95 215.8 464.55 212.4" fill="none" stroke="#6a6a6a" stroke-width="0.6"/><path d="M438.3 224.6 Q438.9 228 444.3 228.4 L458.55 228.4 Q463.95 228 464.55 224.6" fill="none" stroke="#6a6a6a" stroke-width="0.6"/><path d="M438.3 270.2 Q438.9 273.6 444.3 274 L458.55 274 Q463.95 273.6 464.55 270.2" fill="none" stroke="#6a6a6a" stroke-width="0.6"/><path d="M438.3 286.2 Q438.9 289.6 444.3 290 L458.55 290 Q463.95 289.6 464.55 286.2" fill="none" stroke="#6a6a6a" stroke-width="0.6"/><line x1="435.25" y1="209" x2="438.3" y2="209" stroke="#777" stroke-width="0.5"/><line x1="464.55" y1="209" x2="465.4" y2="209" stroke="#777" stroke-width="0.5"/><line x1="435.25" y1="220.4" x2="438.3" y2="220.4" stroke="#777" stroke-width="0.5"/><line x1="464.55" y1="220.4" x2="465.4" y2="220.4" stroke="#777" stroke-width="0.5"/><line x1="435.25" y1="248" x2="438.3" y2="248" stroke="#777" stroke-width="0.5"/><line x1="464.55" y1="248" x2="465.4" y2="248" stroke="#777" stroke-width="0.5"/><line x1="435.25" y1="262" x2="438.3" y2="262" stroke="#777" stroke-width="0.5"/><line x1="464.55" y1="262" x2="465.4" y2="262" stroke="#777" stroke-width="0.5"/><line x1="435.25" y1="278" x2="438.3" y2="278" stroke="#777" stroke-width="0.5"/><line x1="464.55" y1="278" x2="465.4" y2="278" stroke="#777" stroke-width="0.5"/><line x1="435.25" y1="293" x2="438.3" y2="293" stroke="#777" stroke-width="0.5"/><line x1="464.55" y1="293" x2="465.4" y2="293" stroke="#777" stroke-width="0.5"/><path d="M435.25 181 l1.5 6 l1.5 -6 M465.4 181 l-1.5 6 l-1.5 -6" fill="none" stroke="#777" stroke-width="0.5"/><path d="M465.4 308.2 L465.4 180.8 L473.2 175.4 L488.9 175.4 L496.5 180.8 L496.5 308.2" fill="none" stroke="#6a6a6a" stroke-width="0.7"/><line x1="467.1" y1="180.8" x2="467.1" y2="308.2" stroke="#6a6a6a" stroke-width="0.6"/><line x1="473.3" y1="175.4" x2="473.3" y2="308.2" stroke="#6a6a6a" stroke-width="0.6"/><line x1="486.7" y1="175.4" x2="486.7" y2="308.2" stroke="#6a6a6a" stroke-width="0.6"/><line x1="493.3" y1="180.8" x2="493.3" y2="308.2" stroke="#6a6a6a" stroke-width="0.6"/><line x1="465.4" y1="180.6" x2="496.5" y2="180.6" stroke="#6a6a6a" stroke-width="0.6"/><line x1="465.4" y1="197.3" x2="496.5" y2="197.3" stroke="#6a6a6a" stroke-width="0.6"/><line x1="465.4" y1="299.4" x2="496.5" y2="299.4" stroke="#6a6a6a" stroke-width="0.6"/><path d="M467.1 211 Q467.7 214.4 473.1 214.8 L487.3 214.8 Q492.7 214.4 493.3 211" fill="none" stroke="#6a6a6a" stroke-width="0.6"/><path d="M467.1 225.4 Q467.7 228.8 473.1 229.2 L487.3 229.2 Q492.7 228.8 493.3 225.4" fill="none" stroke="#6a6a6a" stroke-width="0.6"/><path d="M467.1 270.2 Q467.7 273.6 473.1 274 L487.3 274 Q492.7 273.6 493.3 270.2" fill="none" stroke="#6a6a6a" stroke-width="0.6"/><path d="M467.1 286.2 Q467.7 289.6 473.1 290 L487.3 290 Q492.7 289.6 493.3 286.2" fill="none" stroke="#6a6a6a" stroke-width="0.6"/><line x1="465.4" y1="209" x2="467.1" y2="209" stroke="#777" stroke-width="0.5"/><line x1="493.3" y1="209" x2="496.5" y2="209" stroke="#777" stroke-width="0.5"/><line x1="465.4" y1="220.4" x2="467.1" y2="220.4" stroke="#777" stroke-width="0.5"/><line x1="493.3" y1="220.4" x2="496.5" y2="220.4" stroke="#777" stroke-width="0.5"/><line x1="465.4" y1="248" x2="467.1" y2="248" stroke="#777" stroke-width="0.5"/><line x1="493.3" y1="248" x2="496.5" y2="248" stroke="#777" stroke-width="0.5"/><line x1="465.4" y1="262" x2="467.1" y2="262" stroke="#777" stroke-width="0.5"/><line x1="493.3" y1="262" x2="496.5" y2="262" stroke="#777" stroke-width="0.5"/><line x1="465.4" y1="278" x2="467.1" y2="278" stroke="#777" stroke-width="0.5"/><line x1="493.3" y1="278" x2="496.5" y2="278" stroke="#777" stroke-width="0.5"/><line x1="465.4" y1="293" x2="467.1" y2="293" stroke="#777" stroke-width="0.5"/><line x1="493.3" y1="293" x2="496.5" y2="293" stroke="#777" stroke-width="0.5"/><path d="M465.4 181 l1.5 6 l1.5 -6 M496.5 181 l-1.5 6 l-1.5 -6" fill="none" stroke="#777" stroke-width="0.5"/><line x1="465.4" y1="181" x2="465.4" y2="308.2" stroke="#707070" stroke-width="1.0"/>
<rect x="421.5" y="314.2" width="88.5" height="76.1" fill="url(#hx)" stroke="#777" stroke-width="0.7"/>
<rect x="418.6" y="307.9" width="94" height="7.4" rx="1.6" ry="1.6" fill="#fff" stroke="none"/>
<line x1="419.4" y1="308.5" x2="512" y2="308.5" stroke="#4a4a4a" stroke-width="0.9"/>
<line x1="418.5" y1="310.5" x2="512.9" y2="310.5" stroke="#4a4a4a" stroke-width="0.9"/>
<line x1="419.4" y1="312.5" x2="512" y2="312.5" stroke="#4a4a4a" stroke-width="0.9"/>
<path d="M419.4 308.5 q-1.6 2 0 4 M512 308.5 q1.6 2 0 4" fill="none" stroke="#555" stroke-width="0.6"/>
<line x1="421" y1="314.5" x2="428.5" y2="314.5" stroke="#1a1a1a" stroke-width="1.3"/>
<line x1="444" y1="314.5" x2="488.5" y2="314.5" stroke="#1a1a1a" stroke-width="1.3"/>
<line x1="504" y1="314.5" x2="510.5" y2="314.5" stroke="#1a1a1a" stroke-width="1.3"/>
<rect x="418.6" y="389.9" width="94" height="7.4" rx="1.6" ry="1.6" fill="#fff" stroke="none"/>
<line x1="419.4" y1="392.5" x2="512" y2="392.5" stroke="#4a4a4a" stroke-width="0.9"/>
<line x1="418.5" y1="394.5" x2="512.9" y2="394.5" stroke="#4a4a4a" stroke-width="0.9"/>
<line x1="419.4" y1="396.5" x2="512" y2="396.5" stroke="#4a4a4a" stroke-width="0.9"/>
<path d="M419.4 392.5 q-1.6 2 0 4 M512 392.5 q1.6 2 0 4" fill="none" stroke="#555" stroke-width="0.6"/>
<line x1="421" y1="390.5" x2="428.5" y2="390.5" stroke="#1a1a1a" stroke-width="1.3"/>
<line x1="444" y1="390.5" x2="488.5" y2="390.5" stroke="#1a1a1a" stroke-width="1.3"/>
<line x1="504" y1="390.5" x2="510.5" y2="390.5" stroke="#1a1a1a" stroke-width="1.3"/>
<line x1="465.7" y1="300" x2="465.7" y2="396.3" stroke="#777" stroke-width="0.5"/>
<line x1="387.9" y1="318.8" x2="387.9" y2="386.2" stroke="#464646" stroke-width="1.5"/><line x1="396.9" y1="318.8" x2="396.9" y2="386.2" stroke="#464646" stroke-width="1.5"/><line x1="405.6" y1="318.8" x2="405.6" y2="386.2" stroke="#464646" stroke-width="1.5"/><line x1="414.4" y1="318.8" x2="414.4" y2="386.2" stroke="#464646" stroke-width="1.5"/>
<line x1="380" y1="318.8" x2="421.5" y2="318.8" stroke="#777" stroke-width="0.8"/>
<line x1="380" y1="386.2" x2="421.5" y2="386.2" stroke="#4a4a4a" stroke-width="0.9"/>
<line x1="516.9" y1="318.8" x2="516.9" y2="386.2" stroke="#464646" stroke-width="1.5"/><line x1="525.6" y1="318.8" x2="525.6" y2="386.2" stroke="#464646" stroke-width="1.5"/><line x1="534.4" y1="318.8" x2="534.4" y2="386.2" stroke="#464646" stroke-width="1.5"/><line x1="543.1" y1="318.8" x2="543.1" y2="386.2" stroke="#464646" stroke-width="1.5"/>
<line x1="510" y1="318.8" x2="546.5" y2="318.8" stroke="#777" stroke-width="0.8"/>
<line x1="510" y1="386.2" x2="546.5" y2="386.2" stroke="#4a4a4a" stroke-width="0.9"/>
<line x1="379.4" y1="330" x2="379.4" y2="374" stroke="#4a4a4a" stroke-width="0.8"/>
<rect x="323.75" y="378.5" width="43.2" height="4.6" fill="#fff" stroke="#4a4a4a" stroke-width="0.8"/>
<line x1="328.1" y1="383.1" x2="328.1" y2="446.2" stroke="#333" stroke-width="1.5"/><line x1="363.5" y1="383.1" x2="363.5" y2="446.2" stroke="#333" stroke-width="1.5"/>
<line x1="336.9" y1="386.5" x2="336.9" y2="446.2" stroke="#464646" stroke-width="1.5"/><line x1="345.9" y1="386.5" x2="345.9" y2="446.2" stroke="#464646" stroke-width="1.5"/><line x1="354.9" y1="386.5" x2="354.9" y2="446.2" stroke="#464646" stroke-width="1.5"/>
<line x1="336.9" y1="385" x2="354.9" y2="385" stroke="#4a4a4a" stroke-width="0.7"/>
<line x1="336.9" y1="386.6" x2="354.9" y2="386.6" stroke="#4a4a4a" stroke-width="1.1"/>
<line x1="319.4" y1="390" x2="319.4" y2="434" stroke="#333" stroke-width="0.9"/>
<line x1="563.75" y1="378.75" x2="607.8" y2="378.75" stroke="#222" stroke-width="1.5"/>
<line x1="567.5" y1="379" x2="567.5" y2="446.2" stroke="#333" stroke-width="1.5"/><line x1="603.75" y1="379" x2="603.75" y2="446.2" stroke="#333" stroke-width="1.5"/>
<line x1="576.9" y1="380" x2="576.9" y2="446.2" stroke="#464646" stroke-width="1.5"/><line x1="586" y1="380" x2="586" y2="446.2" stroke="#464646" stroke-width="1.5"/><line x1="594.9" y1="380" x2="594.9" y2="446.2" stroke="#464646" stroke-width="1.5"/>
<line x1="371.9" y1="394.4" x2="434.4" y2="394.4" stroke="#4c4c4c" stroke-width="1.4"/><line x1="371.9" y1="403.2" x2="434.4" y2="403.2" stroke="#4c4c4c" stroke-width="1.4"/><line x1="371.9" y1="411.9" x2="434.4" y2="411.9" stroke="#4c4c4c" stroke-width="1.4"/><line x1="371.9" y1="420.6" x2="434.4" y2="420.6" stroke="#4c4c4c" stroke-width="1.4"/><line x1="371.9" y1="430" x2="434.4" y2="430" stroke="#4c4c4c" stroke-width="1.4"/>
<line x1="371.9" y1="438.6" x2="434.4" y2="438.6" stroke="#4a4a4a" stroke-width="0.8"/>
<line x1="497.2" y1="394.4" x2="559.6" y2="394.4" stroke="#4c4c4c" stroke-width="1.4"/><line x1="497.2" y1="403.2" x2="559.6" y2="403.2" stroke="#4c4c4c" stroke-width="1.4"/><line x1="497.2" y1="411.9" x2="559.6" y2="411.9" stroke="#4c4c4c" stroke-width="1.4"/><line x1="497.2" y1="420.6" x2="559.6" y2="420.6" stroke="#4c4c4c" stroke-width="1.4"/><line x1="497.2" y1="430" x2="559.6" y2="430" stroke="#4c4c4c" stroke-width="1.4"/>
<line x1="497.2" y1="438.6" x2="559.6" y2="438.6" stroke="#4a4a4a" stroke-width="0.8"/>
<line x1="371.9" y1="388" x2="371.9" y2="438.6" stroke="#4a4a4a" stroke-width="0.8"/>
<line x1="559.6" y1="388" x2="559.6" y2="438.6" stroke="#4a4a4a" stroke-width="0.8"/>
<line x1="434.4" y1="396.3" x2="434.4" y2="434" stroke="#4a4a4a" stroke-width="0.8"/>
<line x1="439.6" y1="396.3" x2="439.6" y2="434" stroke="#4a4a4a" stroke-width="0.8"/>
<line x1="492.3" y1="396.3" x2="492.3" y2="434" stroke="#4a4a4a" stroke-width="0.8"/>
<line x1="496.9" y1="396.3" x2="496.9" y2="434" stroke="#4a4a4a" stroke-width="0.8"/>
<path d="M454 396.3 A12 6.5 0 0 0 477.4 396.3" fill="none" stroke="#777" stroke-width="0.6"/>
<rect x="311.9" y="446.3" width="67.5" height="25" fill="none" stroke="#777" stroke-width="0.7"/>
<line x1="313.1" y1="454.4" x2="379.4" y2="454.4" stroke="#444" stroke-width="1.4"/><line x1="313.1" y1="463.1" x2="379.4" y2="463.1" stroke="#444" stroke-width="1.4"/>
<rect x="552.2" y="446.3" width="67.2" height="25" fill="none" stroke="#777" stroke-width="0.7"/>
<line x1="553.4" y1="454.4" x2="619.4" y2="454.4" stroke="#444" stroke-width="1.4"/><line x1="553.4" y1="463.1" x2="619.4" y2="463.1" stroke="#444" stroke-width="1.4"/>
<line x1="327.5" y1="471.4" x2="327.5" y2="539.5" stroke="#464646" stroke-width="1.5"/><line x1="336.9" y1="471.4" x2="336.9" y2="539.5" stroke="#464646" stroke-width="1.5"/><line x1="345.9" y1="471.4" x2="345.9" y2="539.5" stroke="#464646" stroke-width="1.5"/><line x1="354.9" y1="471.4" x2="354.9" y2="539.5" stroke="#464646" stroke-width="1.5"/><line x1="363.3" y1="471.4" x2="363.3" y2="539.5" stroke="#464646" stroke-width="1.5"/>
<line x1="319.4" y1="484" x2="319.4" y2="526" stroke="#4a4a4a" stroke-width="0.8"/>
<line x1="371.9" y1="484" x2="371.9" y2="526" stroke="#4a4a4a" stroke-width="0.8"/>
<line x1="322.4" y1="471.4" x2="368.9" y2="471.4" stroke="#4a4a4a" stroke-width="0.8"/>
<line x1="322.4" y1="529.5" x2="368.9" y2="529.5" stroke="#3a3a3a" stroke-width="0.9"/>
<line x1="322.4" y1="539.5" x2="368.9" y2="539.5" stroke="#3a3a3a" stroke-width="0.9"/>
<rect x="324.4" y="534" width="44.5" height="3.4" fill="none" stroke="#8a8a8a" stroke-width="0.6"/>
<line x1="568.1" y1="471.4" x2="568.1" y2="539.5" stroke="#464646" stroke-width="1.5"/><line x1="576.9" y1="471.4" x2="576.9" y2="539.5" stroke="#464646" stroke-width="1.5"/><line x1="586" y1="471.4" x2="586" y2="539.5" stroke="#464646" stroke-width="1.5"/><line x1="595" y1="471.4" x2="595" y2="539.5" stroke="#464646" stroke-width="1.5"/><line x1="603.6" y1="471.4" x2="603.6" y2="539.5" stroke="#464646" stroke-width="1.5"/>
<line x1="560" y1="484" x2="560" y2="526" stroke="#4a4a4a" stroke-width="0.8"/>
<line x1="611.4" y1="484" x2="611.4" y2="526" stroke="#4a4a4a" stroke-width="0.8"/>
<line x1="563" y1="471.4" x2="608.4" y2="471.4" stroke="#4a4a4a" stroke-width="0.8"/>
<line x1="563" y1="529.5" x2="608.4" y2="529.5" stroke="#3a3a3a" stroke-width="0.9"/>
<line x1="563" y1="539.5" x2="608.4" y2="539.5" stroke="#3a3a3a" stroke-width="0.9"/>
<rect x="565" y="534" width="43.4" height="3.4" fill="none" stroke="#8a8a8a" stroke-width="0.6"/>
<line x1="379.4" y1="484" x2="379.4" y2="530" stroke="#777" stroke-width="0.7"/>
<rect x="314.4" y="484.2" width="2.4" height="4.8" fill="#111"/>
<rect x="374.4" y="484.2" width="2.4" height="4.8" fill="#111"/>
<rect x="314.4" y="522" width="2.4" height="4.8" fill="#111"/>
<rect x="374.4" y="522" width="2.4" height="4.8" fill="#111"/>
<rect x="554.4" y="484.2" width="2.4" height="4.8" fill="#111"/>
<rect x="614.6" y="484.2" width="2.4" height="4.8" fill="#111"/>
<rect x="554.4" y="522" width="2.4" height="4.8" fill="#111"/>
<rect x="615" y="522" width="2.4" height="4.8" fill="#111"/>
<path d="M316.6 489 Q319.6 505.6 316.6 522" fill="none" stroke="#777" stroke-width="0.6"/>
<line x1="372.5" y1="330" x2="372.5" y2="374" stroke="#111" stroke-width="1.3"/>
<rect x="368.1" y="330.4" width="2.9" height="10.6" fill="#555"/>
<rect x="368.1" y="348.6" width="2.9" height="8.4" fill="#555"/>
<rect x="368.1" y="361" width="2.9" height="12.4" fill="#555"/>
<path d="M373.32 351.5 l2.48 -2.7 l2.48 2.7 v2.93 h-4.95 Z" fill="#fff" stroke="#3a3a3a" stroke-width="0.6"/><rect x="373.32" y="350.82" width="2.25" height="3.38" fill="#555" stroke="none"/><line x1="373.32" y1="351.5" x2="378.28" y2="351.5" stroke="#3a3a3a" stroke-width="0.5"/>
<line x1="552.5" y1="330" x2="552.5" y2="374" stroke="#4a4a4a" stroke-width="0.7"/>
<line x1="554.4" y1="330" x2="554.4" y2="374" stroke="#4a4a4a" stroke-width="0.7"/>
<line x1="559.4" y1="330" x2="559.4" y2="374" stroke="#4a4a4a" stroke-width="0.7"/>
<path d="M553.32 351 l2.48 -2.7 l2.48 2.7 v2.93 h-4.95 Z" fill="#fff" stroke="#3a3a3a" stroke-width="0.6"/><rect x="553.32" y="350.32" width="2.25" height="3.38" fill="#555" stroke="none"/><line x1="553.32" y1="351" x2="558.27" y2="351" stroke="#3a3a3a" stroke-width="0.5"/>
<path d="M563.1 375.6 A8.8 8.8 0 0 1 580.7 375.6" fill="none" stroke="#777" stroke-width="0.6"/>
<rect x="569.3" y="372.4" width="5.2" height="5.2" fill="#fff" stroke="#777" stroke-width="0.6"/>
<path d="M591.4 375.6 A8.8 8.8 0 0 1 609 375.6" fill="none" stroke="#777" stroke-width="0.6"/>
<rect x="597.6" y="372.4" width="5.2" height="5.2" fill="#fff" stroke="#777" stroke-width="0.6"/>
<rect x="574.5" y="374.6" width="23.1" height="3" fill="#fff" stroke="#777" stroke-width="0.6"/>
<line x1="284.75" y1="390" x2="284.75" y2="435" stroke="#a6a6a6" stroke-width="1.9"/>
<rect x="284.75" y="411.2" width="16" height="2.8" fill="#fff" stroke="#777" stroke-width="0.6"/>
<path d="M316.2 400.3 H309 Q300.6 400.3 300.6 412 Q300.6 423.6 309 423.6 H316.2 M316.2 402.2 H309.6 Q302.5 402.2 302.5 412 Q302.5 421.7 309.6 421.7 H316.2" fill="none" stroke="#666" stroke-width="0.6"/>
<line x1="312" y1="390.4" x2="312" y2="400.3" stroke="#777" stroke-width="0.7"/>
<line x1="312" y1="423.6" x2="312" y2="433.8" stroke="#777" stroke-width="0.7"/>
<line x1="316.2" y1="390.4" x2="316.2" y2="400.3" stroke="#777" stroke-width="0.7"/>
<line x1="316.2" y1="423.6" x2="316.2" y2="433.8" stroke="#777" stroke-width="0.7"/>
<line x1="312" y1="393" x2="316.2" y2="393" stroke="#777" stroke-width="0.4"/>
<line x1="312" y1="396" x2="316.2" y2="396" stroke="#777" stroke-width="0.4"/>
<line x1="312" y1="399" x2="316.2" y2="399" stroke="#777" stroke-width="0.4"/>
<line x1="312" y1="426" x2="316.2" y2="426" stroke="#777" stroke-width="0.4"/>
<line x1="312" y1="429" x2="316.2" y2="429" stroke="#777" stroke-width="0.4"/>
<line x1="312" y1="432" x2="316.2" y2="432" stroke="#777" stroke-width="0.4"/>
<path d="M312.59 411.6 l2.61 -2.85 l2.61 2.85 v3.09 h-5.23 Z" fill="#fff" stroke="#3a3a3a" stroke-width="0.6"/><rect x="312.59" y="410.89" width="2.38" height="3.56" fill="#555" stroke="none"/><line x1="312.59" y1="411.6" x2="317.81" y2="411.6" stroke="#3a3a3a" stroke-width="0.5"/>
<line x1="384" y1="438.7" x2="427" y2="438.7" stroke="#4a4a4a" stroke-width="0.7"/>
<line x1="384" y1="443.6" x2="427" y2="443.6" stroke="#222" stroke-width="1.2" stroke-dasharray="7 3.2"/>
<line x1="384" y1="445.6" x2="427" y2="445.6" stroke="#777" stroke-width="0.6"/>
<line x1="505.6" y1="445.4" x2="543.2" y2="445.4" stroke="#8a8a8a" stroke-width="1.7" stroke-dasharray="3.4 0.9"/>
<line x1="504" y1="438.2" x2="547" y2="438.2" stroke="#4a4a4a" stroke-width="0.7"/>
<circle cx="405" cy="440.6" r="1.3" fill="none" stroke="#222" stroke-width="0.6"/>
<line x1="406.4" y1="437.6" x2="406.4" y2="442.4" stroke="#222" stroke-width="0.7"/>
<circle cx="525" cy="440.6" r="1.3" fill="none" stroke="#222" stroke-width="0.6"/>
<line x1="526.4" y1="437.6" x2="526.4" y2="442.4" stroke="#222" stroke-width="0.7"/>
<circle cx="465" cy="323" r="1.4" fill="none" stroke="#222" stroke-width="0.6"/>
<line x1="466.5" y1="320" x2="466.5" y2="325" stroke="#222" stroke-width="0.7"/>
<circle cx="465" cy="382" r="1.4" fill="none" stroke="#222" stroke-width="0.6"/>
<line x1="466.5" y1="379" x2="466.5" y2="384" stroke="#222" stroke-width="0.7"/>
<rect x="427.5" y="449.6" width="17.4" height="1.8" fill="#999" stroke="#4a4a4a" stroke-width="0.5"/>
<rect x="434.5" y="452.6" width="2" height="6.2" fill="#fff" stroke="#777" stroke-width="0.5"/>
<circle cx="396.3" cy="481.9" r="9" fill="none" stroke="#777" stroke-width="0.6"/>
<circle cx="396.3" cy="528.6" r="9" fill="none" stroke="#777" stroke-width="0.6"/>
<rect x="383.8" y="479.4" width="16.8" height="51.8" fill="#fff" stroke="#4a4a4a" stroke-width="0.8"/>
<line x1="388.1" y1="479.4" x2="388.1" y2="531.2" stroke="#4a4a4a" stroke-width="1.0"/><line x1="391.9" y1="479.4" x2="391.9" y2="531.2" stroke="#4a4a4a" stroke-width="1.0"/>
<line x1="393.2" y1="479.4" x2="393.2" y2="531.2" stroke="#777" stroke-width="0.6"/>
<path d="M373.32 506.4 l2.48 -2.7 l2.48 2.7 v2.93 h-4.95 Z" fill="#fff" stroke="#3a3a3a" stroke-width="0.6"/><rect x="373.32" y="505.72" width="2.25" height="3.38" fill="#555" stroke="none"/><line x1="373.32" y1="506.4" x2="378.28" y2="506.4" stroke="#3a3a3a" stroke-width="0.5"/>
<path d="M331.9 545.3 l1.6 -1.1 H358.6 l1.6 1.1 l-1.6 1.1 H333.5 Z" fill="#aaa" stroke="#999" stroke-width="0.3"/>
<path d="M331.9 561.3 l1.6 -1.1 H358.6 l1.6 1.1 l-1.6 1.1 H333.5 Z" fill="#aaa" stroke="#999" stroke-width="0.3"/>
<path d="M331.9 577.4 l1.6 -1.1 H358.6 l1.6 1.1 l-1.6 1.1 H333.5 Z" fill="#aaa" stroke="#999" stroke-width="0.3"/>
<path d="M331.9 593.5 l1.6 -1.1 H358.6 l1.6 1.1 l-1.6 1.1 H333.5 Z" fill="#aaa" stroke="#999" stroke-width="0.3"/>
<path d="M331.9 609.6 l1.6 -1.1 H358.6 l1.6 1.1 l-1.6 1.1 H333.5 Z" fill="#aaa" stroke="#999" stroke-width="0.3"/>
<path d="M331.9 625.6 l1.6 -1.1 H358.6 l1.6 1.1 l-1.6 1.1 H333.5 Z" fill="#aaa" stroke="#999" stroke-width="0.3"/>
<path d="M331.9 641.7 l1.6 -1.1 H358.6 l1.6 1.1 l-1.6 1.1 H333.5 Z" fill="#aaa" stroke="#999" stroke-width="0.3"/>
<path d="M331.9 657.8 l1.6 -1.1 H358.6 l1.6 1.1 l-1.6 1.1 H333.5 Z" fill="#aaa" stroke="#999" stroke-width="0.3"/>
<rect x="344.6" y="537.6" width="2.9" height="126.2" fill="#fff" stroke="#777" stroke-width="0.7"/>
<rect x="343.4" y="663.4" width="5.4" height="2.6" fill="#fff" stroke="#777" stroke-width="0.6"/>
<rect x="325.6" y="666" width="40.6" height="2.6" fill="#fff" stroke="#777" stroke-width="0.6"/>
<line x1="323" y1="670.5" x2="368.8" y2="670.5" stroke="#444" stroke-width="0.9"/>
<line x1="323" y1="673.4" x2="368.8" y2="673.4" stroke="#444" stroke-width="0.9"/>
<rect x="565.1" y="666" width="41.1" height="2.6" fill="#fff" stroke="#777" stroke-width="0.6"/>
<line x1="562.5" y1="670.5" x2="608.8" y2="670.5" stroke="#444" stroke-width="0.9"/>
<line x1="562.5" y1="673.4" x2="608.8" y2="673.4" stroke="#444" stroke-width="0.9"/>
<line x1="569.2" y1="539.4" x2="569.2" y2="664" stroke="#777" stroke-width="0.7"/>
<line x1="572.5" y1="539.4" x2="572.5" y2="664" stroke="#777" stroke-width="0.7"/>
<line x1="599.4" y1="539.4" x2="599.4" y2="664" stroke="#777" stroke-width="0.7"/>
<line x1="602.7" y1="539.4" x2="602.7" y2="664" stroke="#777" stroke-width="0.7"/>
<line x1="572.5" y1="544.4" x2="599.4" y2="544.4" stroke="#777" stroke-width="0.6"/>
<line x1="572.5" y1="546.4" x2="599.4" y2="546.4" stroke="#777" stroke-width="0.6"/>
<line x1="572.5" y1="563.1" x2="599.4" y2="563.1" stroke="#777" stroke-width="0.6"/>
<line x1="572.5" y1="565.1" x2="599.4" y2="565.1" stroke="#777" stroke-width="0.6"/>
<line x1="572.5" y1="581.8" x2="599.4" y2="581.8" stroke="#777" stroke-width="0.6"/>
<line x1="572.5" y1="583.8" x2="599.4" y2="583.8" stroke="#777" stroke-width="0.6"/>
<line x1="572.5" y1="600.5" x2="599.4" y2="600.5" stroke="#777" stroke-width="0.6"/>
<line x1="572.5" y1="602.5" x2="599.4" y2="602.5" stroke="#777" stroke-width="0.6"/>
<line x1="572.5" y1="619.2" x2="599.4" y2="619.2" stroke="#777" stroke-width="0.6"/>
<line x1="572.5" y1="621.2" x2="599.4" y2="621.2" stroke="#777" stroke-width="0.6"/>
<line x1="572.5" y1="637.9" x2="599.4" y2="637.9" stroke="#777" stroke-width="0.6"/>
<line x1="572.5" y1="639.9" x2="599.4" y2="639.9" stroke="#777" stroke-width="0.6"/>
<line x1="572.5" y1="656.6" x2="599.4" y2="656.6" stroke="#777" stroke-width="0.6"/>
<line x1="572.5" y1="658.6" x2="599.4" y2="658.6" stroke="#777" stroke-width="0.6"/>
<rect x="568" y="663" width="5.6" height="4.6" fill="#fff" stroke="#777" stroke-width="0.6"/>
<rect x="598.3" y="663" width="5.6" height="4.6" fill="#fff" stroke="#777" stroke-width="0.6"/>
<rect x="563" y="534.2" width="6.4" height="4.4" fill="#fff" stroke="#777" stroke-width="0.6"/>
<rect x="598.2" y="534.2" width="6.4" height="4.4" fill="#fff" stroke="#777" stroke-width="0.6"/>
<line x1="385" y1="668.7" x2="427" y2="668.7" stroke="#777" stroke-width="0.6"/>
<line x1="385.2" y1="667.3" x2="397" y2="667.3" stroke="#222" stroke-width="1.7" stroke-dasharray="1.6 0.5"/>
<line x1="385.2" y1="670.3" x2="397" y2="670.3" stroke="#222" stroke-width="1.7" stroke-dasharray="1.6 0.5"/>
<line x1="401.2" y1="667.3" x2="411" y2="667.3" stroke="#222" stroke-width="1.7" stroke-dasharray="1.6 0.5"/>
<line x1="401.2" y1="670.3" x2="411" y2="670.3" stroke="#222" stroke-width="1.7" stroke-dasharray="1.6 0.5"/>
<line x1="415" y1="667.3" x2="427" y2="667.3" stroke="#222" stroke-width="1.7" stroke-dasharray="1.6 0.5"/>
<line x1="415" y1="670.3" x2="427" y2="670.3" stroke="#222" stroke-width="1.7" stroke-dasharray="1.6 0.5"/>
<rect x="504.4" y="666.2" width="43.2" height="2.4" fill="#fff" stroke="#777" stroke-width="0.7"/>
<rect x="619.1" y="389.5" width="8.5" height="45.7" fill="#fff" stroke="#777" stroke-width="0.6"/>
<line x1="619.1" y1="402" x2="627.6" y2="402" stroke="#777" stroke-width="0.6"/>
<line x1="619.1" y1="422.6" x2="627.6" y2="422.6" stroke="#777" stroke-width="0.6"/>
<line x1="628.5" y1="386" x2="628.5" y2="438.2" stroke="#a0a0a0" stroke-width="1.4" stroke-dasharray="2.2 0.6"/>
<line x1="620.2" y1="404" x2="620.2" y2="419.6" stroke="#4a4a4a" stroke-width="0.9"/>
<path d="M629 400 A65.4 65.4 0 0 1 693.75 456.2 V473.2" fill="none" stroke="#3c3c3c" stroke-width="0.75"/>
<path d="M629 398.17 A67.23 67.23 0 0 1 695.6 456.2 V473.2" fill="none" stroke="#5a5a5a" stroke-width="0.6"/>
<path d="M629 396.33 A69.07 69.07 0 0 1 697.45 456.2 V473.2" fill="none" stroke="#5a5a5a" stroke-width="0.6"/>
<path d="M629 394.5 A70.9 70.9 0 0 1 699.3 456.2 V473.2" fill="none" stroke="#3c3c3c" stroke-width="0.75"/>
<rect x="629" y="394.5" width="8.6" height="5.5" fill="#c4c4c4" stroke="none"/>
<path d="M629 429.6 A35.8 35.8 0 0 1 663.6 456.2 V473.2" fill="none" stroke="#3c3c3c" stroke-width="0.75"/>
<path d="M629 427.77 A37.63 37.63 0 0 1 665.49 456.2 V473.2" fill="none" stroke="#5a5a5a" stroke-width="0.6"/>
<path d="M629 425.93 A39.47 39.47 0 0 1 667.38 456.2 V473.2" fill="none" stroke="#5a5a5a" stroke-width="0.6"/>
<path d="M629 424.1 A41.3 41.3 0 0 1 669.26 456.2 V473.2" fill="none" stroke="#3c3c3c" stroke-width="0.75"/>
<rect x="629" y="424.1" width="8.6" height="5.5" fill="#c4c4c4" stroke="none"/>
<line x1="637.6" y1="394.5" x2="637.6" y2="430" stroke="#999" stroke-width="0.5"/>
<path d="M612.59 411.8 l2.61 -2.85 l2.61 2.85 v3.09 h-5.23 Z" fill="#fff" stroke="#3a3a3a" stroke-width="0.6"/><rect x="612.59" y="411.09" width="2.38" height="3.56" fill="#555" stroke="none"/><line x1="612.59" y1="411.8" x2="617.81" y2="411.8" stroke="#3a3a3a" stroke-width="0.5"/>
<line x1="612" y1="390" x2="612" y2="434" stroke="#999" stroke-width="1.4"/>
<line x1="669.2" y1="456.2" x2="693.8" y2="456.2" stroke="#777" stroke-width="0.6"/>
<line x1="664.2" y1="473.2" x2="699.4" y2="473.2" stroke="#4a4a4a" stroke-width="0.8"/>
<rect x="694" y="456.2" width="5.2" height="12" fill="#bdbdbd" stroke="none"/>
<circle cx="275.3" cy="505.6" r="43.6" fill="none" stroke="#777" stroke-width="0.6"/>
<path d="M282.6 486.4 A18.8 18.8 0 1 0 264.6 515.8 L262.2 511.2 A13.8 13.8 0 1 1 276.4 489.2 Z" fill="none" stroke="#777" stroke-width="0.6" stroke-linejoin="round"/>
<path d="M272 489.8 L297.6 486.2 A5.6 5.6 0 1 1 296.4 497.2 Q293.8 492.6 286.6 493.4 L286.6 513.6 L280.6 513.6 L280.6 494.2 L277.6 494.4 L277.6 518.6 L258.6 526.2 L261.6 536.2 L255.6 538.2 L251.6 523.6 L272 515 Z" fill="#fff" stroke="#777" stroke-width="0.6" stroke-linejoin="round"/>
<rect x="392.25" y="343.9" width="26.8" height="16.8" rx="2.6" ry="2.6" fill="#fff" stroke="#8a8a8a" stroke-width="0.7"/><text x="395.85" y="357.3" font-size="13" textLength="14.6" lengthAdjust="spacingAndGlyphs" fill="#737373" font-style="italic">40</text><line x1="411.85" y1="347.5" x2="411.85" y2="351.5" stroke="#666" stroke-width="0.8"/><line x1="414.65" y1="347.5" x2="414.65" y2="351.5" stroke="#666" stroke-width="0.8"/>
<rect x="452.5" y="343.9" width="26.8" height="16.8" rx="2.6" ry="2.6" fill="#fff" stroke="#8a8a8a" stroke-width="0.7"/><text x="456.1" y="357.3" font-size="13" textLength="14.6" lengthAdjust="spacingAndGlyphs" fill="#737373" font-style="italic">48</text><line x1="472.1" y1="347.5" x2="472.1" y2="351.5" stroke="#666" stroke-width="0.8"/><line x1="474.9" y1="347.5" x2="474.9" y2="351.5" stroke="#666" stroke-width="0.8"/>
<rect x="512.25" y="343.9" width="26.8" height="16.8" rx="2.6" ry="2.6" fill="#fff" stroke="#8a8a8a" stroke-width="0.7"/><text x="515.85" y="357.3" font-size="13" textLength="14.6" lengthAdjust="spacingAndGlyphs" fill="#737373" font-style="italic">40</text><line x1="531.85" y1="347.5" x2="531.85" y2="351.5" stroke="#666" stroke-width="0.8"/><line x1="534.65" y1="347.5" x2="534.65" y2="351.5" stroke="#666" stroke-width="0.8"/>
<rect x="332.5" y="403.75" width="26.8" height="16.8" rx="2.6" ry="2.6" fill="#fff" stroke="#8a8a8a" stroke-width="0.7"/><text x="336.1" y="417.15" font-size="13" textLength="14.6" lengthAdjust="spacingAndGlyphs" fill="#737373" font-style="italic">32</text><line x1="352.1" y1="407.35" x2="352.1" y2="411.35" stroke="#666" stroke-width="0.8"/><line x1="354.9" y1="407.35" x2="354.9" y2="411.35" stroke="#666" stroke-width="0.8"/>
<rect x="392.5" y="403.75" width="26.8" height="16.8" rx="2.6" ry="2.6" fill="#fff" stroke="#8a8a8a" stroke-width="0.7"/><text x="396.1" y="417.15" font-size="13" textLength="14.6" lengthAdjust="spacingAndGlyphs" fill="#737373" font-style="italic">32</text><line x1="412.1" y1="407.35" x2="412.1" y2="411.35" stroke="#666" stroke-width="0.8"/><line x1="414.9" y1="407.35" x2="414.9" y2="411.35" stroke="#666" stroke-width="0.8"/>
<rect x="512.5" y="403.75" width="26.8" height="16.8" rx="2.6" ry="2.6" fill="#fff" stroke="#8a8a8a" stroke-width="0.7"/><text x="516.1" y="417.15" font-size="13" textLength="14.6" lengthAdjust="spacingAndGlyphs" fill="#737373" font-style="italic">32</text><line x1="532.1" y1="407.35" x2="532.1" y2="411.35" stroke="#666" stroke-width="0.8"/><line x1="534.9" y1="407.35" x2="534.9" y2="411.35" stroke="#666" stroke-width="0.8"/>
<rect x="572.5" y="403.75" width="26.8" height="16.8" rx="2.6" ry="2.6" fill="#fff" stroke="#8a8a8a" stroke-width="0.7"/><text x="576.1" y="417.15" font-size="13" textLength="14.6" lengthAdjust="spacingAndGlyphs" fill="#737373" font-style="italic">32</text><line x1="592.1" y1="407.35" x2="592.1" y2="411.35" stroke="#666" stroke-width="0.8"/><line x1="594.9" y1="407.35" x2="594.9" y2="411.35" stroke="#666" stroke-width="0.8"/>
<rect x="333.75" y="449.5" width="26.8" height="16.8" rx="2.6" ry="2.6" fill="#fff" stroke="#8a8a8a" stroke-width="0.7"/><text x="337.35" y="462.9" font-size="13" textLength="14.6" lengthAdjust="spacingAndGlyphs" fill="#737373" font-style="italic">24</text><line x1="353.35" y1="453.1" x2="353.35" y2="457.1" stroke="#666" stroke-width="0.8"/><line x1="356.15" y1="453.1" x2="356.15" y2="457.1" stroke="#666" stroke-width="0.8"/>
<rect x="573.75" y="449.5" width="26.8" height="16.8" rx="2.6" ry="2.6" fill="#fff" stroke="#8a8a8a" stroke-width="0.7"/><text x="577.35" y="462.9" font-size="13" textLength="14.6" lengthAdjust="spacingAndGlyphs" fill="#737373" font-style="italic">24</text><line x1="593.35" y1="453.1" x2="593.35" y2="457.1" stroke="#666" stroke-width="0.8"/><line x1="596.15" y1="453.1" x2="596.15" y2="457.1" stroke="#666" stroke-width="0.8"/>
<rect x="332.5" y="497.4" width="26.8" height="16.8" rx="2.6" ry="2.6" fill="#fff" stroke="#8a8a8a" stroke-width="0.7"/><text x="336.1" y="510.8" font-size="13" textLength="14.6" lengthAdjust="spacingAndGlyphs" fill="#737373" font-style="italic">16</text><line x1="352.1" y1="501" x2="352.1" y2="505" stroke="#666" stroke-width="0.8"/><line x1="354.9" y1="501" x2="354.9" y2="505" stroke="#666" stroke-width="0.8"/>
<rect x="572.4" y="497.4" width="26.8" height="16.8" rx="2.6" ry="2.6" fill="#fff" stroke="#8a8a8a" stroke-width="0.7"/><text x="576" y="510.8" font-size="13" textLength="14.6" lengthAdjust="spacingAndGlyphs" fill="#737373" font-style="italic">16</text><line x1="592" y1="501" x2="592" y2="505" stroke="#666" stroke-width="0.8"/><line x1="594.8" y1="501" x2="594.8" y2="505" stroke="#666" stroke-width="0.8"/>
<circle cx="375.6" cy="321.9" r="8.6" fill="#fff" stroke="#7d7d7d" stroke-width="0.7"/><text x="368" y="326.5" font-size="14.6" textLength="7.4" lengthAdjust="spacingAndGlyphs" fill="#7e7e7e">9</text><text x="376.2" y="320.7" font-size="6.5" textLength="3" lengthAdjust="spacingAndGlyphs" fill="#666">1</text><line x1="375.8" y1="321.7" x2="380" y2="321.7" stroke="#666" stroke-width="0.6"/><text x="376" y="328.5" font-size="7.5" textLength="4.4" lengthAdjust="spacingAndGlyphs" fill="#666">2</text><line x1="381.2" y1="316.3" x2="381.2" y2="319.3" stroke="#666" stroke-width="0.7"/>
<circle cx="555.6" cy="322.2" r="8.6" fill="#fff" stroke="#7d7d7d" stroke-width="0.7"/><text x="548" y="326.8" font-size="14.6" textLength="7.4" lengthAdjust="spacingAndGlyphs" fill="#7e7e7e">9</text><text x="556.2" y="321" font-size="6.5" textLength="3" lengthAdjust="spacingAndGlyphs" fill="#666">1</text><line x1="555.8" y1="322" x2="560" y2="322" stroke="#666" stroke-width="0.6"/><text x="556" y="328.8" font-size="7.5" textLength="4.4" lengthAdjust="spacingAndGlyphs" fill="#666">2</text><line x1="561.2" y1="316.6" x2="561.2" y2="319.6" stroke="#666" stroke-width="0.7"/>
<circle cx="375.6" cy="381.9" r="8.6" fill="#fff" stroke="#7d7d7d" stroke-width="0.7"/><text x="368" y="386.5" font-size="14.6" textLength="7.4" lengthAdjust="spacingAndGlyphs" fill="#7e7e7e">9</text><text x="376.2" y="380.7" font-size="6.5" textLength="3" lengthAdjust="spacingAndGlyphs" fill="#666">1</text><line x1="375.8" y1="381.7" x2="380" y2="381.7" stroke="#666" stroke-width="0.6"/><text x="376" y="388.5" font-size="7.5" textLength="4.4" lengthAdjust="spacingAndGlyphs" fill="#666">2</text><line x1="381.2" y1="376.3" x2="381.2" y2="379.3" stroke="#666" stroke-width="0.7"/>
<circle cx="555.6" cy="382.2" r="8.6" fill="#fff" stroke="#7d7d7d" stroke-width="0.7"/><text x="548" y="386.8" font-size="14.6" textLength="7.4" lengthAdjust="spacingAndGlyphs" fill="#7e7e7e">9</text><text x="556.2" y="381" font-size="6.5" textLength="3" lengthAdjust="spacingAndGlyphs" fill="#666">1</text><line x1="555.8" y1="382" x2="560" y2="382" stroke="#666" stroke-width="0.6"/><text x="556" y="388.8" font-size="7.5" textLength="4.4" lengthAdjust="spacingAndGlyphs" fill="#666">2</text><line x1="561.2" y1="376.6" x2="561.2" y2="379.6" stroke="#666" stroke-width="0.7"/>
<circle cx="315.6" cy="381.9" r="8.6" fill="#fff" stroke="#7d7d7d" stroke-width="0.7"/><text x="310" y="386.9" font-size="14.6" textLength="7.6" lengthAdjust="spacingAndGlyphs" fill="#7e7e7e">9</text><line x1="319.3" y1="376.3" x2="319.3" y2="380.1" stroke="#7e7e7e" stroke-width="0.8"/>
<circle cx="616.2" cy="381.9" r="8.6" fill="#fff" stroke="#7d7d7d" stroke-width="0.7"/><text x="610.6" y="386.9" font-size="14.6" textLength="7.6" lengthAdjust="spacingAndGlyphs" fill="#7e7e7e">9</text><line x1="619.9" y1="376.3" x2="619.9" y2="380.1" stroke="#7e7e7e" stroke-width="0.8"/>
<circle cx="315.6" cy="441.9" r="8.6" fill="#fff" stroke="#7d7d7d" stroke-width="0.7"/><text x="310" y="446.9" font-size="14.6" textLength="7.6" lengthAdjust="spacingAndGlyphs" fill="#7e7e7e">9</text><line x1="319.3" y1="436.3" x2="319.3" y2="440.1" stroke="#7e7e7e" stroke-width="0.8"/>
<circle cx="375.6" cy="441.9" r="8.6" fill="#fff" stroke="#7d7d7d" stroke-width="0.7"/><text x="370" y="446.9" font-size="14.6" textLength="7.6" lengthAdjust="spacingAndGlyphs" fill="#7e7e7e">9</text><line x1="379.3" y1="436.3" x2="379.3" y2="440.1" stroke="#7e7e7e" stroke-width="0.8"/>
<circle cx="436.2" cy="441.9" r="8.6" fill="#fff" stroke="#7d7d7d" stroke-width="0.7"/><text x="430.6" y="446.9" font-size="14.6" textLength="7.6" lengthAdjust="spacingAndGlyphs" fill="#7e7e7e">9</text><line x1="439.9" y1="436.3" x2="439.9" y2="440.1" stroke="#7e7e7e" stroke-width="0.8"/>
<circle cx="495.6" cy="441.9" r="8.6" fill="#fff" stroke="#7d7d7d" stroke-width="0.7"/><text x="490" y="446.9" font-size="14.6" textLength="7.6" lengthAdjust="spacingAndGlyphs" fill="#7e7e7e">9</text><line x1="499.3" y1="436.3" x2="499.3" y2="440.1" stroke="#7e7e7e" stroke-width="0.8"/>
<circle cx="555.6" cy="441.9" r="8.6" fill="#fff" stroke="#7d7d7d" stroke-width="0.7"/><text x="550" y="446.9" font-size="14.6" textLength="7.6" lengthAdjust="spacingAndGlyphs" fill="#7e7e7e">9</text><line x1="559.3" y1="436.3" x2="559.3" y2="440.1" stroke="#7e7e7e" stroke-width="0.8"/>
<circle cx="615.6" cy="441.9" r="8.6" fill="#fff" stroke="#7d7d7d" stroke-width="0.7"/><text x="610" y="446.9" font-size="14.6" textLength="7.6" lengthAdjust="spacingAndGlyphs" fill="#7e7e7e">9</text><line x1="619.3" y1="436.3" x2="619.3" y2="440.1" stroke="#7e7e7e" stroke-width="0.8"/>
<circle cx="315.6" cy="475.6" r="8.6" fill="#fff" stroke="#7d7d7d" stroke-width="0.7"/><text x="310" y="480.6" font-size="14.6" textLength="7.6" lengthAdjust="spacingAndGlyphs" fill="#7e7e7e">8</text><line x1="319.3" y1="470" x2="319.3" y2="473.8" stroke="#7e7e7e" stroke-width="0.8"/>
<circle cx="375.6" cy="475.6" r="8.6" fill="#fff" stroke="#7d7d7d" stroke-width="0.7"/><text x="370" y="480.6" font-size="14.6" textLength="7.6" lengthAdjust="spacingAndGlyphs" fill="#7e7e7e">8</text><line x1="379.3" y1="470" x2="379.3" y2="473.8" stroke="#7e7e7e" stroke-width="0.8"/>
<circle cx="555.6" cy="475.6" r="8.6" fill="#fff" stroke="#7d7d7d" stroke-width="0.7"/><text x="550" y="480.6" font-size="14.6" textLength="7.6" lengthAdjust="spacingAndGlyphs" fill="#7e7e7e">8</text><line x1="559.3" y1="470" x2="559.3" y2="473.8" stroke="#7e7e7e" stroke-width="0.8"/>
<circle cx="615.6" cy="475.6" r="8.6" fill="#fff" stroke="#7d7d7d" stroke-width="0.7"/><text x="610" y="480.6" font-size="14.6" textLength="7.6" lengthAdjust="spacingAndGlyphs" fill="#7e7e7e">8</text><line x1="619.3" y1="470" x2="619.3" y2="473.8" stroke="#7e7e7e" stroke-width="0.8"/>
<circle cx="315.2" cy="535.6" r="8.6" fill="#fff" stroke="#7d7d7d" stroke-width="0.7"/><text x="307.6" y="540.2" font-size="14.6" textLength="7.4" lengthAdjust="spacingAndGlyphs" fill="#7e7e7e">8</text><text x="315.8" y="534.4" font-size="6.5" textLength="3" lengthAdjust="spacingAndGlyphs" fill="#666">1</text><line x1="315.4" y1="535.4" x2="319.6" y2="535.4" stroke="#666" stroke-width="0.6"/><text x="315.6" y="542.2" font-size="7.5" textLength="4.4" lengthAdjust="spacingAndGlyphs" fill="#666">2</text><line x1="320.8" y1="530" x2="320.8" y2="533" stroke="#666" stroke-width="0.7"/>
<circle cx="376.2" cy="535.6" r="8.6" fill="#fff" stroke="#7d7d7d" stroke-width="0.7"/><text x="368.6" y="540.2" font-size="14.6" textLength="7.4" lengthAdjust="spacingAndGlyphs" fill="#7e7e7e">8</text><text x="376.8" y="534.4" font-size="6.5" textLength="3" lengthAdjust="spacingAndGlyphs" fill="#666">1</text><line x1="376.4" y1="535.4" x2="380.6" y2="535.4" stroke="#666" stroke-width="0.6"/><text x="376.6" y="542.2" font-size="7.5" textLength="4.4" lengthAdjust="spacingAndGlyphs" fill="#666">2</text><line x1="381.8" y1="530" x2="381.8" y2="533" stroke="#666" stroke-width="0.7"/>
<circle cx="555.2" cy="535.6" r="8.6" fill="#fff" stroke="#7d7d7d" stroke-width="0.7"/><text x="547.6" y="540.2" font-size="14.6" textLength="7.4" lengthAdjust="spacingAndGlyphs" fill="#7e7e7e">8</text><text x="555.8" y="534.4" font-size="6.5" textLength="3" lengthAdjust="spacingAndGlyphs" fill="#666">1</text><line x1="555.4" y1="535.4" x2="559.6" y2="535.4" stroke="#666" stroke-width="0.6"/><text x="555.6" y="542.2" font-size="7.5" textLength="4.4" lengthAdjust="spacingAndGlyphs" fill="#666">2</text><line x1="560.8" y1="530" x2="560.8" y2="533" stroke="#666" stroke-width="0.7"/>
<circle cx="616.8" cy="535.6" r="8.6" fill="#fff" stroke="#7d7d7d" stroke-width="0.7"/><text x="609.2" y="540.2" font-size="14.6" textLength="7.4" lengthAdjust="spacingAndGlyphs" fill="#7e7e7e">8</text><text x="617.4" y="534.4" font-size="6.5" textLength="3" lengthAdjust="spacingAndGlyphs" fill="#666">1</text><line x1="617" y1="535.4" x2="621.2" y2="535.4" stroke="#666" stroke-width="0.6"/><text x="617.2" y="542.2" font-size="7.5" textLength="4.4" lengthAdjust="spacingAndGlyphs" fill="#666">2</text><line x1="622.4" y1="530" x2="622.4" y2="533" stroke="#666" stroke-width="0.7"/>
<circle cx="315.6" cy="667.5" r="8.6" fill="#fff" stroke="#7d7d7d" stroke-width="0.7"/><text x="308" y="672.1" font-size="14.6" textLength="7.4" lengthAdjust="spacingAndGlyphs" fill="#7e7e7e">8</text><text x="316.2" y="666.3" font-size="6.5" textLength="3" lengthAdjust="spacingAndGlyphs" fill="#666">1</text><line x1="315.8" y1="667.3" x2="320" y2="667.3" stroke="#666" stroke-width="0.6"/><text x="316" y="674.1" font-size="7.5" textLength="4.4" lengthAdjust="spacingAndGlyphs" fill="#666">2</text><line x1="321.2" y1="661.9" x2="321.2" y2="664.9" stroke="#666" stroke-width="0.7"/>
<circle cx="376.2" cy="667.5" r="8.6" fill="#fff" stroke="#7d7d7d" stroke-width="0.7"/><text x="368.6" y="672.1" font-size="14.6" textLength="7.4" lengthAdjust="spacingAndGlyphs" fill="#7e7e7e">8</text><text x="376.8" y="666.3" font-size="6.5" textLength="3" lengthAdjust="spacingAndGlyphs" fill="#666">1</text><line x1="376.4" y1="667.3" x2="380.6" y2="667.3" stroke="#666" stroke-width="0.6"/><text x="376.6" y="674.1" font-size="7.5" textLength="4.4" lengthAdjust="spacingAndGlyphs" fill="#666">2</text><line x1="381.8" y1="661.9" x2="381.8" y2="664.9" stroke="#666" stroke-width="0.7"/>
<circle cx="555.6" cy="667.5" r="8.6" fill="#fff" stroke="#7d7d7d" stroke-width="0.7"/><text x="548" y="672.1" font-size="14.6" textLength="7.4" lengthAdjust="spacingAndGlyphs" fill="#7e7e7e">8</text><text x="556.2" y="666.3" font-size="6.5" textLength="3" lengthAdjust="spacingAndGlyphs" fill="#666">1</text><line x1="555.8" y1="667.3" x2="560" y2="667.3" stroke="#666" stroke-width="0.6"/><text x="556" y="674.1" font-size="7.5" textLength="4.4" lengthAdjust="spacingAndGlyphs" fill="#666">2</text><line x1="561.2" y1="661.9" x2="561.2" y2="664.9" stroke="#666" stroke-width="0.7"/>
<circle cx="616.8" cy="667.5" r="8.6" fill="#fff" stroke="#7d7d7d" stroke-width="0.7"/><text x="609.2" y="672.1" font-size="14.6" textLength="7.4" lengthAdjust="spacingAndGlyphs" fill="#7e7e7e">8</text><text x="617.4" y="666.3" font-size="6.5" textLength="3" lengthAdjust="spacingAndGlyphs" fill="#666">1</text><line x1="617" y1="667.3" x2="621.2" y2="667.3" stroke="#666" stroke-width="0.6"/><text x="617.2" y="674.1" font-size="7.5" textLength="4.4" lengthAdjust="spacingAndGlyphs" fill="#666">2</text><line x1="622.4" y1="661.9" x2="622.4" y2="664.9" stroke="#666" stroke-width="0.7"/>
<circle cx="435.2" cy="668" r="8.6" fill="#fff" stroke="#7d7d7d" stroke-width="0.7"/><text x="429.6" y="673" font-size="14.6" textLength="7.6" lengthAdjust="spacingAndGlyphs" fill="#7e7e7e">6</text><line x1="438.9" y1="662.4" x2="438.9" y2="666.2" stroke="#7e7e7e" stroke-width="0.8"/>
<circle cx="495.6" cy="667.5" r="8.6" fill="#fff" stroke="#7d7d7d" stroke-width="0.7"/><text x="490" y="672.5" font-size="14.6" textLength="7.6" lengthAdjust="spacingAndGlyphs" fill="#7e7e7e">6</text><line x1="499.3" y1="661.9" x2="499.3" y2="665.7" stroke="#7e7e7e" stroke-width="0.8"/>
<circle cx="436.65" cy="323.1" r="7.3" fill="#fff" stroke="none"/><text x="428.85" y="328.7" font-size="16" textLength="12.6" lengthAdjust="spacingAndGlyphs" fill="#7e7e7e">12</text><line x1="442.65" y1="317.3" x2="442.65" y2="320.9" stroke="#666" stroke-width="0.8"/>
<circle cx="496.65" cy="323.1" r="7.3" fill="#fff" stroke="none"/><text x="488.85" y="328.7" font-size="16" textLength="12.6" lengthAdjust="spacingAndGlyphs" fill="#7e7e7e">12</text><line x1="502.65" y1="317.3" x2="502.65" y2="320.9" stroke="#666" stroke-width="0.8"/>
<circle cx="436.65" cy="381.9" r="7.3" fill="#fff" stroke="none"/><text x="428.85" y="387.5" font-size="16" textLength="12.6" lengthAdjust="spacingAndGlyphs" fill="#7e7e7e">12</text><line x1="442.65" y1="376.1" x2="442.65" y2="379.7" stroke="#666" stroke-width="0.8"/>
<circle cx="496.65" cy="381.9" r="7.3" fill="#fff" stroke="none"/><text x="488.85" y="387.5" font-size="16" textLength="12.6" lengthAdjust="spacingAndGlyphs" fill="#7e7e7e">12</text><line x1="502.65" y1="376.1" x2="502.65" y2="379.7" stroke="#666" stroke-width="0.8"/>
<!-- part_labels -->
<text x="182.5" y="43.6" font-size="11.4" textLength="118" lengthAdjust="spacingAndGlyphs" fill="#747474">(9) Square Deck Platforms *</text>
<text x="444.4" y="158.2" font-size="11.4" textLength="43.6" lengthAdjust="spacingAndGlyphs" fill="#747474">48&quot; Triple</text>
<text x="447.8" y="172.6" font-size="11.4" textLength="35.8" lengthAdjust="spacingAndGlyphs" fill="#747474">Rail Slide</text>
<text x="363.75" y="221.25" font-size="11.4" textLength="43.75" lengthAdjust="spacingAndGlyphs" fill="#747474">Under Deck</text>
<text x="362.25" y="236.25" font-size="11.4" textLength="47.75" lengthAdjust="spacingAndGlyphs" fill="#747474">Bench (GL)</text>
<text x="511.5" y="220" font-size="11.4" textLength="27.5" lengthAdjust="spacingAndGlyphs" fill="#747474">Gabled</text>
<text x="516.5" y="234" font-size="11.4" textLength="16.6" lengthAdjust="spacingAndGlyphs" fill="#747474">Roof</text>
<text x="390.6" y="301" font-size="11.4" textLength="27.5" lengthAdjust="spacingAndGlyphs" fill="#747474">Slotted</text>
<text x="394.4" y="315.25" font-size="11.4" textLength="20" lengthAdjust="spacingAndGlyphs" fill="#747474">Panel</text>
<text x="511.25" y="301" font-size="11.4" textLength="27.75" lengthAdjust="spacingAndGlyphs" fill="#747474">Slotted</text>
<text x="515.25" y="315.25" font-size="11.4" textLength="20" lengthAdjust="spacingAndGlyphs" fill="#747474">Panel</text>
<text x="548.1" y="296" font-size="11.4" textLength="30" lengthAdjust="spacingAndGlyphs" fill="#747474">Chatter</text>
<text x="556.5" y="310.25" font-size="11.4" textLength="13.5" lengthAdjust="spacingAndGlyphs" fill="#747474">Box</text>
<text x="240" y="325.6" font-size="11.4" textLength="31" lengthAdjust="spacingAndGlyphs" fill="#747474">Pipewall</text>
<text x="235" y="340.25" font-size="11.4" textLength="41" lengthAdjust="spacingAndGlyphs" fill="#747474">w/ Wheel</text>
<text x="338.75" y="347.25" font-size="11.4" textLength="19.35" lengthAdjust="spacingAndGlyphs" fill="#747474">40&quot;</text>
<text x="332.5" y="361.9" font-size="11.4" textLength="31.25" lengthAdjust="spacingAndGlyphs" fill="#747474">Rockwall</text>
<text x="560.6" y="354" font-size="11.4" textLength="31.4" lengthAdjust="spacingAndGlyphs" fill="#747474">Pipewall</text>
<text x="627.5" y="329.4" font-size="11.4" textLength="38.75" lengthAdjust="spacingAndGlyphs" fill="#747474">36&quot; Pipe</text>
<text x="632" y="343.75" font-size="11.4" textLength="28.6" lengthAdjust="spacingAndGlyphs" fill="#747474">Ladder</text>
<text x="251.9" y="408.75" font-size="11.4" textLength="16.85" lengthAdjust="spacingAndGlyphs" fill="#747474">Tree</text>
<text x="246" y="423.75" font-size="11.4" textLength="27.75" lengthAdjust="spacingAndGlyphs" fill="#747474">Climber</text>
<text x="200" y="446.9" font-size="11.4" textLength="31" lengthAdjust="spacingAndGlyphs" fill="#747474">Deck To</text>
<text x="195" y="461.9" font-size="11.4" textLength="40.6" lengthAdjust="spacingAndGlyphs" fill="#747474">Deck Step</text>
<text x="455" y="413.1" font-size="11.4" textLength="25" lengthAdjust="spacingAndGlyphs" fill="#747474">Bubble</text>
<text x="452.5" y="427.25" font-size="11.4" textLength="30" lengthAdjust="spacingAndGlyphs" fill="#747474">Panel *</text>
<text x="391.25" y="456.5" font-size="11.4" textLength="30" lengthAdjust="spacingAndGlyphs" fill="#747474">Airplane</text>
<text x="391" y="470.6" font-size="11.4" textLength="29.6" lengthAdjust="spacingAndGlyphs" fill="#747474">Panel *</text>
<text x="447.25" y="469.75" font-size="11.4" textLength="30.85" lengthAdjust="spacingAndGlyphs" fill="#747474">Pipewall</text>
<text x="506.25" y="458.5" font-size="11.4" textLength="34.35" lengthAdjust="spacingAndGlyphs" fill="#747474">Butterfly</text>
<text x="504.6" y="473.5" font-size="11.4" textLength="37.3" lengthAdjust="spacingAndGlyphs" fill="#747474">Movement</text>
<text x="508.1" y="487.5" font-size="11.4" textLength="30" lengthAdjust="spacingAndGlyphs" fill="#747474">Panel *</text>
<text x="628.75" y="455" font-size="11.4" textLength="31.25" lengthAdjust="spacingAndGlyphs" fill="#747474">Deck To</text>
<text x="624.4" y="469.4" font-size="11.4" textLength="38.7" lengthAdjust="spacingAndGlyphs" fill="#747474">Deck Step</text>
<text x="707.5" y="455.5" font-size="11.4" textLength="38.75" lengthAdjust="spacingAndGlyphs" fill="#747474">36&quot; 90°</text>
<text x="703" y="470.5" font-size="11.4" textLength="48.25" lengthAdjust="spacingAndGlyphs" fill="#747474">Curved Slide</text>
<text x="402.5" y="502.5" font-size="11.4" textLength="31.9" lengthAdjust="spacingAndGlyphs" fill="#747474">Transfer</text>
<text x="404.4" y="516.9" font-size="11.4" textLength="27.5" lengthAdjust="spacingAndGlyphs" fill="#747474">Step *</text>
<text x="456.9" y="521.25" font-size="11.4" textLength="43.1" lengthAdjust="spacingAndGlyphs" fill="#747474">Post Mount</text>
<text x="449.75" y="535.6" font-size="11.4" textLength="58" lengthAdjust="spacingAndGlyphs" fill="#747474">Steering Wheel</text>
<text x="378.1" y="557.75" font-size="11.4" textLength="29.4" lengthAdjust="spacingAndGlyphs" fill="#747474">Chatter</text>
<text x="386.9" y="572.25" font-size="11.4" textLength="13.1" lengthAdjust="spacingAndGlyphs" fill="#747474">Box</text>
<text x="262" y="592.5" font-size="11.4" textLength="66" lengthAdjust="spacingAndGlyphs" fill="#747474">Straight Tri-Rung</text>
<text x="276.25" y="607" font-size="11.4" textLength="37.5" lengthAdjust="spacingAndGlyphs" fill="#747474">Overhead</text>
<text x="280.5" y="622" font-size="11.4" textLength="29" lengthAdjust="spacingAndGlyphs" fill="#747474">Ladder</text>
<text x="617" y="600" font-size="11.4" textLength="51.75" lengthAdjust="spacingAndGlyphs" fill="#747474">Straight Rung</text>
<text x="607.5" y="614.5" font-size="11.4" textLength="69.5" lengthAdjust="spacingAndGlyphs" fill="#747474">Overhead Ladder</text>
<text x="395.6" y="686.9" font-size="11.4" textLength="21.9" lengthAdjust="spacingAndGlyphs" fill="#747474">Single</text>
<text x="382.5" y="701.25" font-size="11.4" textLength="48.75" lengthAdjust="spacingAndGlyphs" fill="#747474">Cross-Tread</text>
<text x="392.5" y="715.25" font-size="11.4" textLength="28.1" lengthAdjust="spacingAndGlyphs" fill="#747474">Climber</text>
<text x="510.6" y="680" font-size="11.4" textLength="30" lengthAdjust="spacingAndGlyphs" fill="#747474">Chinning</text>
<text x="518.1" y="694.4" font-size="11.4" textLength="13.8" lengthAdjust="spacingAndGlyphs" fill="#747474">Bar</text>
<path d="M409.4 237.2 L432.5 307.5" fill="none" stroke="#808080" stroke-width="0.6"/>
<path d="M525.6 237.2 L501.2 265 L500 303.6" fill="none" stroke="#808080" stroke-width="0.6"/>
<path d="M277.2 338.5 L335 377.5 M331.6 374 l3.6 -0.6 l1.4 3" fill="none" stroke="#808080" stroke-width="0.6"/>
<path d="M647.5 345 L602 372.5" fill="none" stroke="#808080" stroke-width="0.6"/>
<path d="M232.5 445 L311.2 456.2 M303.6 453.6 l0.4 3 M303.6 453.6 l7 1.2" fill="none" stroke="#808080" stroke-width="0.6"/>
<path d="M463.8 461.2 L440.8 417.6 M463.8 461.2 L490.4 425.2" fill="none" stroke="#808080" stroke-width="0.6"/>
<path d="M435.4 458.8 L435.4 480.6 L476.2 511.9" fill="none" stroke="#808080" stroke-width="0.6"/>
<circle cx="500" cy="305.2" r="1.1" fill="#fff" stroke="#808080" stroke-width="0.5"/>
<circle cx="440.3" cy="416.6" r="1.1" fill="#fff" stroke="#808080" stroke-width="0.5"/>
<circle cx="490.9" cy="424.4" r="1.1" fill="#fff" stroke="#808080" stroke-width="0.5"/>
</svg>
</body></html>
